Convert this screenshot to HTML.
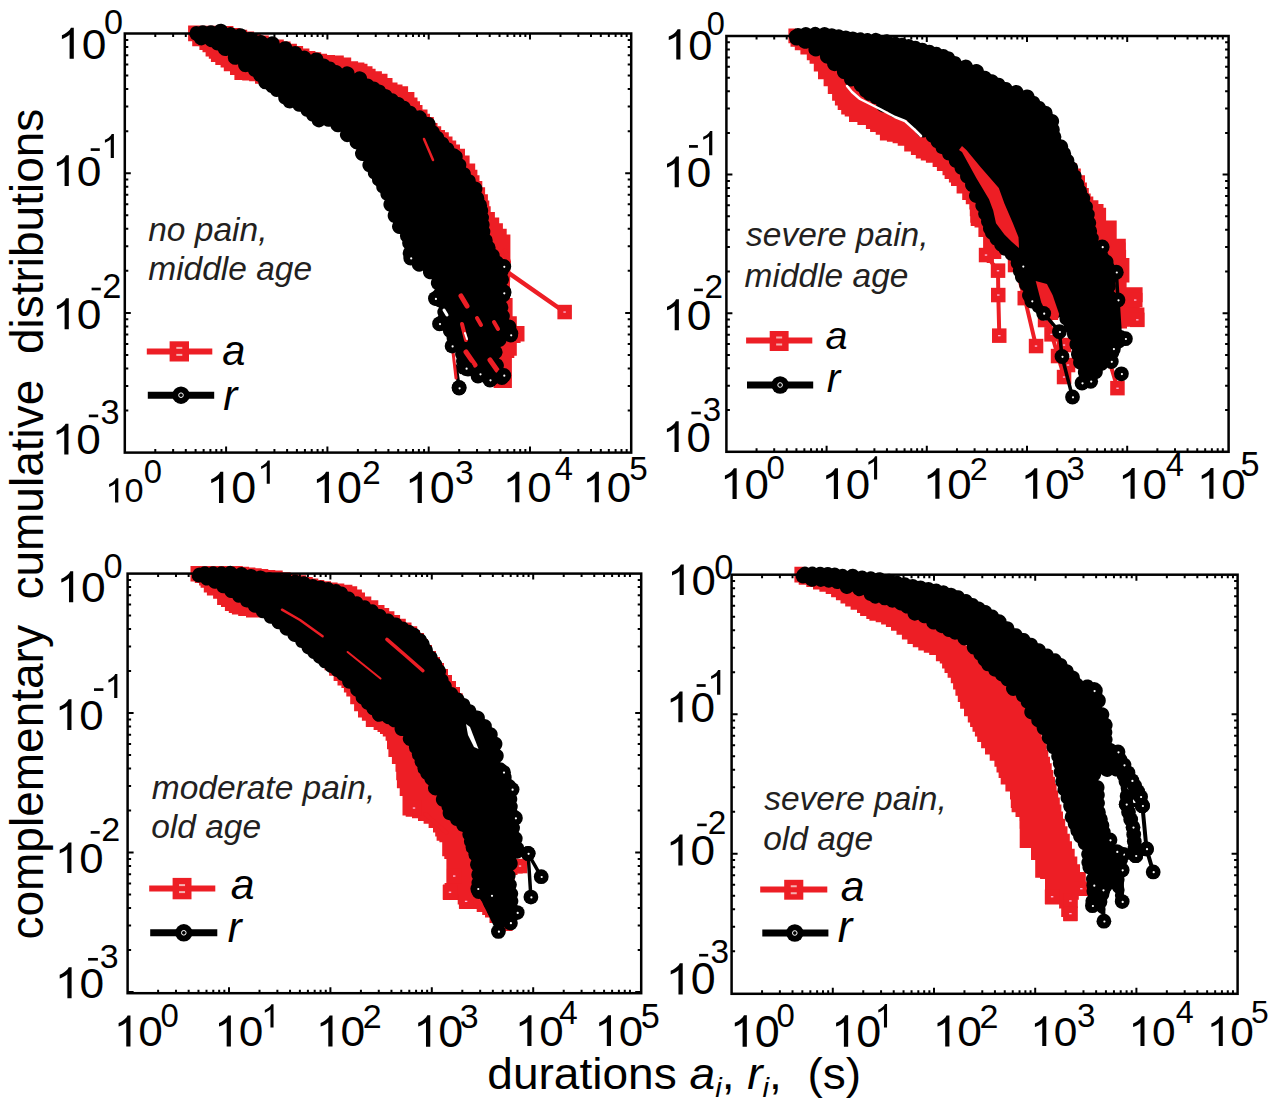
<!DOCTYPE html><html><head><meta charset="utf-8"><style>html,body{margin:0;padding:0;background:#fff;overflow:hidden;width:1279px;height:1110px;}svg{display:block;}text{font-family:"Liberation Sans",sans-serif;}</style></head><body><svg width="1279" height="1110" viewBox="0 0 1279 1110" font-family="Liberation Sans, sans-serif">
<rect width="1279" height="1110" fill="#fff"/>
<path d="M188.1 25.6 L192.6 25.6 L192.6 25.6 L197.0 25.6 L200.3 25.6 L200.3 25.7 L203.6 25.7 L206.9 25.7 L206.9 25.8 L210.2 25.8 L213.5 25.8 L213.5 25.8 L216.8 25.8 L220.1 25.8 L220.1 25.9 L223.4 25.9 L226.7 25.9 L226.7 26.0 L230.0 26.0 L233.4 26.0 L233.4 27.9 L236.9 27.9 L240.3 27.9 L240.3 29.8 L243.8 29.8 L247.2 29.8 L247.2 31.6 L250.6 31.6 L254.1 31.6 L254.1 33.5 L257.5 33.5 L261.2 33.5 L261.2 35.5 L265.0 35.5 L268.8 35.5 L268.8 37.5 L272.5 37.5 L276.2 37.5 L276.2 39.5 L280.0 39.5 L283.8 39.5 L283.8 41.5 L287.5 41.5 L290.6 41.5 L290.6 43.8 L293.8 43.8 L296.9 43.8 L296.9 46.0 L300.0 46.0 L303.1 46.0 L303.1 48.5 L306.2 48.5 L309.4 48.5 L309.4 51.0 L312.5 51.0 L315.4 51.0 L315.4 52.3 L318.3 52.3 L321.2 52.3 L321.2 53.7 L324.2 53.7 L327.1 53.7 L327.1 55.0 L330.0 55.0 L335.0 55.0 L335.0 55.6 L340.0 55.6 L343.8 55.6 L343.8 57.5 L347.5 57.5 L351.2 57.5 L351.2 61.2 L355.0 61.2 L358.1 61.2 L358.1 62.5 L361.2 62.5 L364.4 62.5 L364.4 63.8 L367.5 63.8 L367.5 66.2 L372.5 66.2 L372.5 68.8 L375.6 68.8 L375.6 71.2 L378.8 71.2 L381.9 71.2 L381.9 73.8 L385.0 73.8 L387.5 73.8 L387.5 78.1 L390.0 78.1 L392.5 78.1 L392.5 82.5 L395.0 82.5 L397.5 82.5 L397.5 84.4 L400.0 84.4 L402.5 84.4 L402.5 86.2 L405.0 86.2 L408.1 86.2 L408.1 91.9 L411.2 91.9 L414.4 91.9 L414.4 97.5 L417.5 97.5 L417.5 101.2 L420.0 101.2 L420.0 105.0 L422.5 105.0 L422.5 109.4 L425.0 109.4 L427.5 109.4 L427.5 113.8 L430.0 113.8 L430.0 116.9 L433.8 116.9 L433.8 120.0 L433.8 123.1 L437.5 123.1 L437.5 126.2 L441.2 126.2 L441.2 130.0 L445.0 130.0 L445.0 132.2 L448.8 132.2 L448.8 134.4 L448.8 136.6 L452.5 136.6 L452.5 138.8 L452.5 140.6 L456.2 140.6 L456.2 142.5 L456.2 144.4 L460.0 144.4 L460.0 146.2 L460.0 148.8 L465.0 148.8 L465.0 151.2 L465.0 155.6 L469.6 155.6 L469.6 159.9 L469.6 163.4 L475.2 163.4 L475.2 166.9 L475.2 169.7 L477.4 169.7 L477.4 172.5 L477.4 175.3 L479.5 175.3 L479.5 178.1 L479.5 180.9 L482.3 180.9 L482.3 183.8 L482.3 187.3 L485.1 187.3 L485.1 190.8 L485.1 194.3 L487.9 194.3 L487.9 197.8 L487.9 200.6 L489.3 200.6 L489.3 203.4 L489.3 206.3 L490.7 206.3 L490.7 209.1 L490.7 211.9 L494.9 211.9 L494.9 214.8 L494.9 217.6 L499.2 217.6 L499.2 220.4 L499.2 223.2 L502.9 223.2 L502.9 226.0 L502.9 228.8 L506.7 228.8 L506.7 231.6 L506.7 234.4 L510.4 234.4 L510.4 237.2 L510.4 240.4 L510.4 240.4 L510.4 243.6 L510.4 246.7 L510.4 246.7 L510.4 249.9 L510.4 253.1 L510.4 253.1 L510.4 256.2 L510.4 259.4 L510.4 259.4 L510.4 262.6 L510.4 266.1 L510.3 266.1 L510.3 269.7 L510.3 273.2 L510.2 273.2 L510.2 276.8 L510.2 280.3 L510.0 280.3 L510.0 283.8 L510.0 287.4 L509.9 287.4 L509.9 290.9 L509.9 294.5 L509.8 294.5 L509.8 298.0 L511.2 298.0 L511.2 298.0 L512.6 298.0 L512.6 301.1 L512.6 301.1 L512.6 304.1 L512.6 307.1 L512.6 307.1 L512.6 310.2 L512.6 313.2 L512.6 313.2 L512.6 316.3 L514.7 316.3 L514.7 316.3 L516.8 316.3 L516.8 321.1 L516.8 321.1 L516.8 326.0 L520.6 326.0 L520.6 326.0 L524.5 326.0 L524.5 329.9 L524.5 329.9 L524.5 333.8 L524.5 337.7 L524.5 337.7 L524.5 341.6 L520.6 341.6 L520.6 343.0 L516.8 343.0 L516.8 346.2 L516.8 346.2 L516.8 349.4 L516.8 352.5 L516.8 352.5 L516.8 355.7 L514.3 355.7 L514.3 358.0 L511.9 358.0 L511.9 361.8 L511.9 361.8 L511.9 365.5 L511.9 369.2 L511.9 369.2 L511.9 373.0 L511.9 376.8 L511.9 376.8 L511.9 380.5 L511.9 384.2 L511.9 384.2 L511.9 388.0 L508.2 388.0 L508.2 388.0 L504.5 388.0 L500.8 388.0 L500.8 388.0 L497.1 388.0 L493.6 388.0 L493.6 385.0 L490.0 385.0 L490.0 382.5 L486.7 382.5 L486.7 380.0 L486.7 377.5 L483.3 377.5 L483.3 375.0 L483.3 372.5 L480.0 372.5 L480.0 370.0 L480.0 367.0 L478.0 367.0 L478.0 364.0 L478.0 361.0 L476.0 361.0 L476.0 358.0 L476.0 355.0 L474.0 355.0 L474.0 352.0 L474.0 349.0 L472.0 349.0 L472.0 346.0 L472.0 343.0 L470.0 343.0 L470.0 340.0 L470.0 336.7 L468.3 336.7 L468.3 333.3 L468.3 330.0 L466.7 330.0 L466.7 326.7 L466.7 323.3 L465.0 323.3 L465.0 320.0 L465.0 316.7 L463.3 316.7 L463.3 313.3 L463.3 310.0 L461.7 310.0 L461.7 306.7 L461.7 303.3 L460.0 303.3 L460.0 300.0 L460.0 297.0 L457.0 297.0 L457.0 294.0 L457.0 291.0 L454.0 291.0 L454.0 288.0 L454.0 285.0 L451.0 285.0 L451.0 282.0 L451.0 279.0 L448.0 279.0 L448.0 276.0 L448.0 273.0 L445.0 273.0 L445.0 270.0 L445.0 267.0 L441.0 267.0 L441.0 264.0 L441.0 261.0 L437.0 261.0 L437.0 258.0 L437.0 255.0 L433.0 255.0 L433.0 252.0 L433.0 249.0 L429.0 249.0 L429.0 246.0 L429.0 243.0 L425.0 243.0 L425.0 240.0 L425.0 237.1 L421.7 237.1 L421.7 234.2 L421.7 231.2 L418.3 231.2 L418.3 228.3 L418.3 225.4 L415.0 225.4 L415.0 222.5 L415.0 219.6 L411.7 219.6 L411.7 216.7 L411.7 213.8 L408.3 213.8 L408.3 210.8 L408.3 207.9 L405.0 207.9 L405.0 205.0 L405.0 202.1 L401.7 202.1 L401.7 199.2 L401.7 196.2 L398.3 196.2 L398.3 193.3 L398.3 190.4 L395.0 190.4 L395.0 187.5 L395.0 184.6 L391.7 184.6 L391.7 181.7 L391.7 178.8 L388.3 178.8 L388.3 175.8 L388.3 172.9 L385.0 172.9 L385.0 170.0 L385.0 167.5 L381.0 167.5 L381.0 165.0 L381.0 162.5 L377.0 162.5 L377.0 160.0 L377.0 157.5 L373.0 157.5 L373.0 155.0 L373.0 152.5 L369.0 152.5 L369.0 150.0 L369.0 147.5 L365.0 147.5 L365.0 145.0 L362.5 145.0 L362.5 141.0 L360.0 141.0 L357.5 141.0 L357.5 137.0 L355.0 137.0 L352.5 137.0 L352.5 133.0 L350.0 133.0 L347.5 133.0 L347.5 129.0 L345.0 129.0 L342.5 129.0 L342.5 125.0 L340.0 125.0 L337.0 125.0 L337.0 122.0 L334.0 122.0 L331.0 122.0 L331.0 119.0 L328.0 119.0 L325.0 119.0 L325.0 116.0 L322.0 116.0 L319.0 116.0 L319.0 113.0 L316.0 113.0 L313.0 113.0 L313.0 110.0 L310.0 110.0 L306.9 110.0 L306.9 106.2 L303.8 106.2 L300.6 106.2 L300.6 102.5 L297.5 102.5 L294.4 102.5 L294.4 98.8 L291.2 98.8 L288.1 98.8 L288.1 95.0 L285.0 95.0 L281.7 95.0 L281.7 91.7 L278.3 91.7 L275.0 91.7 L275.0 88.3 L271.7 88.3 L268.3 88.3 L268.3 85.0 L265.0 85.0 L261.2 85.0 L261.2 83.8 L257.5 83.8 L255.0 83.8 L255.0 81.2 L252.5 81.2 L249.1 81.2 L249.1 80.6 L245.6 80.6 L242.2 80.6 L242.2 80.0 L238.8 80.0 L234.4 80.0 L234.4 75.0 L230.0 75.0 L230.0 71.2 L223.8 71.2 L223.8 67.5 L220.6 67.5 L220.6 65.0 L217.5 65.0 L215.3 65.0 L215.3 61.9 L213.1 61.9 L210.9 61.9 L210.9 58.8 L208.8 58.8 L208.8 56.6 L205.6 56.6 L205.6 54.4 L205.6 52.2 L202.5 52.2 L202.5 50.0 L199.4 50.0 L199.4 46.2 L196.2 46.2 L192.2 46.2 L192.2 41.2 L188.1 41.2 L188.1 37.3 L188.1 37.3 L188.1 33.4 L188.1 29.5 L188.1 29.5 L188.1 25.6 Z" fill="#ed1e25"/>
<path d="M506.0 271.0 L564.6 312.0" fill="none" stroke="#ed1e25" stroke-width="4.5" stroke-linejoin="round" stroke-linecap="round"/>
<rect x="557.4" y="304.8" width="14.5" height="14.5" fill="#ed1e25"/><rect x="563.4" y="311.4" width="2.4" height="1.3" fill="#fbd"/>
<path d="M189.7 32.8 A7.4 7.4 0 0 1 191.8 27.7 A7.4 7.4 0 0 1 198.8 26.6 A7.4 7.4 0 0 1 206.9 26.6 A7.4 7.4 0 0 1 214.9 26.6 A7.4 7.4 0 0 1 227.4 27.9 A7.4 7.4 0 0 1 236.0 29.7 A7.4 7.4 0 0 1 247.2 32.9 A7.4 7.4 0 0 1 257.2 36.0 A7.4 7.4 0 0 1 267.2 38.4 A7.4 7.4 0 0 1 279.7 43.5 A7.4 7.4 0 0 1 292.2 46.5 A7.4 7.4 0 0 1 302.1 50.9 A7.4 7.4 0 0 1 310.9 54.7 A7.4 7.4 0 0 1 323.4 58.4 A7.4 7.4 0 0 1 329.5 61.5 A7.4 7.4 0 0 1 335.8 64.9 A7.4 7.4 0 0 1 342.1 68.4 A7.4 7.4 0 0 1 354.6 73.4 A7.4 7.4 0 0 1 367.1 78.4 A7.4 7.4 0 0 1 373.3 81.5 A7.4 7.4 0 0 1 379.5 84.6 A7.4 7.4 0 0 1 385.7 88.9 A7.4 7.4 0 0 1 392.0 93.3 A7.4 7.4 0 0 1 398.2 97.1 A7.4 7.4 0 0 1 404.4 100.8 A7.4 7.4 0 0 1 410.6 105.8 A7.4 7.4 0 0 1 416.9 110.8 A7.4 7.4 0 0 1 426.9 117.0 A7.4 7.4 0 0 1 435.5 125.7 A7.4 7.4 0 0 1 439.8 131.2 A7.4 7.4 0 0 1 444.2 136.9 A7.4 7.4 0 0 1 449.3 142.5 A7.4 7.4 0 0 1 454.4 148.3 A7.4 7.4 0 0 1 459.0 150.6 A7.4 7.4 0 0 1 462.4 158.8 A7.4 7.4 0 0 1 465.9 167.4 A7.4 7.4 0 0 1 470.9 174.5 A7.4 7.4 0 0 1 475.8 181.5 A7.4 7.4 0 0 1 481.4 192.6 A7.4 7.4 0 0 1 484.2 199.6 A7.4 7.4 0 0 1 486.9 206.5 A7.4 7.4 0 0 1 487.6 213.4 A7.4 7.4 0 0 1 488.3 220.5 A7.4 7.4 0 0 1 489.0 227.5 A7.4 7.4 0 0 1 489.7 234.6 A7.4 7.4 0 0 1 492.6 241.8 A7.4 7.4 0 0 1 495.5 248.9 A7.4 7.4 0 0 1 499.7 256.1 A7.4 7.4 0 0 1 504.0 263.2 A7.4 7.4 0 0 1 508.0 268.5 A7.4 7.4 0 0 1 507.4 274.9 A7.4 7.4 0 0 1 506.0 285.4 A7.4 7.4 0 0 1 508.8 291.0 A7.4 7.4 0 0 1 506.0 302.1 A7.4 7.4 0 0 1 507.4 310.8 A7.4 7.4 0 0 1 508.9 319.5 A7.4 7.4 0 0 1 515.9 329.3 A7.4 7.4 0 0 1 514.7 335.3 A7.4 7.4 0 0 1 506.4 338.0 A7.4 7.4 0 0 1 500.4 346.9 A7.4 7.4 0 0 1 498.9 358.6 A7.4 7.4 0 0 1 503.2 368.7 A7.4 7.4 0 0 1 506.1 377.9 A7.4 7.4 0 0 1 498.2 382.8 A7.4 7.4 0 0 1 487.5 382.8 A7.4 7.4 0 0 1 479.4 378.8 A7.4 7.4 0 0 1 475.4 374.8 A7.4 7.4 0 0 1 472.0 368.8 A7.4 7.4 0 0 1 462.9 371.7 A7.4 7.4 0 0 1 460.7 374.3 A7.4 7.4 0 0 1 457.3 365.2 A7.4 7.4 0 0 1 456.6 358.4 A7.4 7.4 0 0 1 455.8 351.1 A7.4 7.4 0 0 1 450.1 343.9 A7.4 7.4 0 0 1 446.6 336.9 A7.4 7.4 0 0 1 443.0 329.9 A7.4 7.4 0 0 1 437.5 323.0 A7.4 7.4 0 0 1 438.3 315.6 A7.4 7.4 0 0 1 439.0 307.5 A7.4 7.4 0 0 1 433.4 299.2 A7.4 7.4 0 0 1 434.8 289.5 A7.4 7.4 0 0 1 431.9 279.2 A7.4 7.4 0 0 1 423.1 270.5 A7.4 7.4 0 0 1 411.9 263.4 A7.4 7.4 0 0 1 406.5 259.6 A7.4 7.4 0 0 1 404.5 248.3 A7.4 7.4 0 0 1 402.4 241.2 A7.4 7.4 0 0 1 400.2 233.9 A7.4 7.4 0 0 1 393.1 222.8 A7.4 7.4 0 0 1 388.9 211.6 A7.4 7.4 0 0 1 384.7 200.3 A7.4 7.4 0 0 1 380.4 193.1 A7.4 7.4 0 0 1 376.2 186.1 A7.4 7.4 0 0 1 372.0 179.0 A7.4 7.4 0 0 1 367.8 172.1 A7.4 7.4 0 0 1 363.6 160.9 A7.4 7.4 0 0 1 356.4 149.4 A7.4 7.4 0 0 1 349.5 141.8 A7.4 7.4 0 0 1 340.6 131.7 A7.4 7.4 0 0 1 330.4 126.6 A7.4 7.4 0 0 1 324.0 125.3 A7.4 7.4 0 0 1 311.7 121.6 A7.4 7.4 0 0 1 306.3 116.8 A7.4 7.4 0 0 1 300.6 111.7 A7.4 7.4 0 0 1 292.9 107.8 A7.4 7.4 0 0 1 283.1 104.2 A7.4 7.4 0 0 1 278.2 96.8 A7.4 7.4 0 0 1 270.5 92.9 A7.4 7.4 0 0 1 265.7 89.3 A7.4 7.4 0 0 1 258.2 81.8 A7.4 7.4 0 0 1 253.2 76.8 A7.4 7.4 0 0 1 248.1 71.7 A7.4 7.4 0 0 1 238.1 64.2 A7.4 7.4 0 0 1 228.1 55.4 A7.4 7.4 0 0 1 217.9 50.4 A7.4 7.4 0 0 1 211.7 47.2 A7.4 7.4 0 0 1 205.4 44.1 A7.4 7.4 0 0 1 194.2 40.4 A7.4 7.4 0 0 1 189.6 35.8 A7.4 7.4 0 0 1 189.7 32.8 Z" fill="#000"/>
<circle cx="459.1" cy="387.4" r="7.4" fill="#000"/><circle cx="459.6" cy="387.7" r="1.1" fill="#fff"/>
<circle cx="501.9" cy="267.1" r="7.4" fill="#000"/><circle cx="502.4" cy="267.4" r="1.1" fill="#fff"/>
<circle cx="504.1" cy="291.9" r="7.4" fill="#000"/><circle cx="504.6" cy="292.2" r="1.1" fill="#fff"/>
<circle cx="510.9" cy="333.6" r="7.4" fill="#000"/><circle cx="511.4" cy="333.9" r="1.1" fill="#fff"/>
<circle cx="501.9" cy="377.5" r="7.4" fill="#000"/><circle cx="502.4" cy="377.8" r="1.1" fill="#fff"/>
<circle cx="441.0" cy="323.4" r="7.4" fill="#000"/><circle cx="441.5" cy="323.7" r="1.1" fill="#fff"/>
<circle cx="410.7" cy="258.1" r="7.4" fill="#000"/><circle cx="411.2" cy="258.4" r="1.1" fill="#fff"/>
<circle cx="436.6" cy="298.6" r="7.4" fill="#000"/><circle cx="437.1" cy="298.9" r="1.1" fill="#fff"/>
<circle cx="490.0" cy="380.0" r="7.4" fill="#000"/><circle cx="490.5" cy="380.3" r="1.1" fill="#fff"/>
<circle cx="478.0" cy="376.0" r="7.4" fill="#000"/><circle cx="478.5" cy="376.3" r="1.1" fill="#fff"/>
<circle cx="468.0" cy="369.0" r="7.4" fill="#000"/><circle cx="468.5" cy="369.3" r="1.1" fill="#fff"/>
<path d="M459.1 387.4 L456.0 366.0" fill="none" stroke="#000" stroke-width="3.5" stroke-linejoin="round" stroke-linecap="round"/>
<path d="M461.0 296.0 L467.0 306.0" fill="none" stroke="#ed1e25" stroke-width="5" stroke-linejoin="round" stroke-linecap="round"/>
<path d="M462.0 324.0 L464.0 332.0 L466.0 340.0" fill="none" stroke="#ed1e25" stroke-width="4" stroke-linejoin="round" stroke-linecap="round"/>
<path d="M477.0 318.0 L481.0 325.0" fill="none" stroke="#ed1e25" stroke-width="4" stroke-linejoin="round" stroke-linecap="round"/>
<path d="M494.0 322.0 L498.0 329.0" fill="none" stroke="#ed1e25" stroke-width="4" stroke-linejoin="round" stroke-linecap="round"/>
<path d="M453.0 352.0 L456.0 378.0" fill="none" stroke="#ed1e25" stroke-width="3" stroke-linejoin="round" stroke-linecap="round"/>
<path d="M466.0 352.0 L475.0 365.0" fill="none" stroke="#ed1e25" stroke-width="5" stroke-linejoin="round" stroke-linecap="round"/>
<path d="M490.0 360.0 L497.0 370.0" fill="none" stroke="#ed1e25" stroke-width="5" stroke-linejoin="round" stroke-linecap="round"/>
<path d="M505.0 250.0 L509.0 262.0" fill="none" stroke="#ed1e25" stroke-width="4" stroke-linejoin="round" stroke-linecap="round"/>
<path d="M444.0 310.0 L447.0 315.0" fill="none" stroke="#fff" stroke-width="3" stroke-linejoin="round" stroke-linecap="round"/>
<path d="M465.0 333.0 L467.0 339.0" fill="none" stroke="#fff" stroke-width="2" stroke-linejoin="round" stroke-linecap="round"/>
<circle cx="459.1" cy="388.0" r="7.4" fill="#000"/><circle cx="459.6" cy="388.3" r="1.1" fill="#fff"/>
<circle cx="480.0" cy="374.0" r="7.4" fill="#000"/><circle cx="480.5" cy="374.3" r="1.1" fill="#fff"/>
<circle cx="503.8" cy="375.4" r="7.4" fill="#000"/><circle cx="504.3" cy="375.7" r="1.1" fill="#fff"/>
<circle cx="510.7" cy="335.0" r="7.4" fill="#000"/><circle cx="511.2" cy="335.3" r="1.1" fill="#fff"/>
<circle cx="503.8" cy="266.5" r="7.4" fill="#000"/><circle cx="504.3" cy="266.8" r="1.1" fill="#fff"/>
<circle cx="503.8" cy="293.0" r="7.4" fill="#000"/><circle cx="504.3" cy="293.3" r="1.1" fill="#fff"/>
<circle cx="439.5" cy="323.8" r="7.4" fill="#000"/><circle cx="440.0" cy="324.1" r="1.1" fill="#fff"/>
<circle cx="435.4" cy="298.6" r="7.4" fill="#000"/><circle cx="435.9" cy="298.9" r="1.1" fill="#fff"/>
<circle cx="452.1" cy="346.1" r="7.4" fill="#000"/><circle cx="452.6" cy="346.4" r="1.1" fill="#fff"/>
<circle cx="466.1" cy="368.4" r="7.4" fill="#000"/><circle cx="466.6" cy="368.7" r="1.1" fill="#fff"/>
<path d="M424.0 139.0 L433.0 160.0" fill="none" stroke="#ed1e25" stroke-width="2.5" stroke-linejoin="round" stroke-linecap="round"/>
<path d="M788.4 28.5 L792.2 28.5 L792.2 28.5 L796.0 28.5 L796.0 31.4 L798.0 31.4 L798.0 34.2 L798.0 37.1 L800.0 37.1 L800.0 40.0 L803.3 40.0 L803.3 44.0 L806.7 44.0 L810.0 44.0 L810.0 48.0 L813.3 48.0 L816.7 48.0 L816.7 52.0 L820.0 52.0 L820.0 54.5 L825.0 54.5 L825.0 57.0 L825.0 59.5 L830.0 59.5 L830.0 62.0 L830.0 64.5 L835.0 64.5 L835.0 67.0 L835.0 69.5 L840.0 69.5 L840.0 72.0 L840.0 74.5 L845.0 74.5 L845.0 77.0 L845.0 79.5 L850.0 79.5 L850.0 82.0 L850.0 84.5 L855.0 84.5 L855.0 87.0 L855.0 89.5 L860.0 89.5 L860.0 92.0 L863.3 92.0 L863.3 96.7 L866.7 96.7 L870.0 96.7 L870.0 101.3 L873.3 101.3 L876.7 101.3 L876.7 106.0 L880.0 106.0 L883.3 106.0 L883.3 109.0 L886.7 109.0 L890.0 109.0 L890.0 112.0 L893.3 112.0 L896.7 112.0 L896.7 115.0 L900.0 115.0 L903.0 115.0 L903.0 119.0 L906.0 119.0 L909.0 119.0 L909.0 123.0 L912.0 123.0 L915.0 123.0 L915.0 127.0 L918.0 127.0 L921.0 127.0 L921.0 131.0 L924.0 131.0 L927.0 131.0 L927.0 135.0 L930.0 135.0 L933.0 135.0 L933.0 139.0 L936.0 139.0 L939.0 139.0 L939.0 143.0 L942.0 143.0 L945.0 143.0 L945.0 147.0 L948.0 147.0 L951.0 147.0 L951.0 151.0 L954.0 151.0 L957.0 151.0 L957.0 155.0 L960.0 155.0 L960.0 157.9 L964.2 157.9 L964.2 160.8 L964.2 163.8 L968.3 163.8 L968.3 166.7 L968.3 169.6 L972.5 169.6 L972.5 172.5 L972.5 175.4 L976.7 175.4 L976.7 178.3 L976.7 181.2 L980.8 181.2 L980.8 184.2 L980.8 187.1 L985.0 187.1 L985.0 190.0 L985.0 193.5 L988.0 193.5 L988.0 197.0 L988.0 200.5 L991.0 200.5 L991.0 204.0 L991.0 207.5 L994.0 207.5 L994.0 211.0 L994.0 214.5 L997.0 214.5 L997.0 218.0 L997.0 221.5 L1000.0 221.5 L1000.0 225.0 L1000.0 228.8 L1001.2 228.8 L1001.2 232.5 L1001.2 236.2 L1002.5 236.2 L1002.5 240.0 L1002.5 243.8 L1003.8 243.8 L1003.8 247.5 L1003.8 251.2 L1005.0 251.2 L1005.0 255.0 L1001.3 255.0 L1001.3 259.0 L997.6 259.0 L993.9 259.0 L993.9 263.0 L990.2 263.0 L986.7 263.0 L986.7 261.3 L983.1 261.3 L983.1 257.2 L983.1 257.2 L983.1 253.2 L983.1 249.1 L983.1 249.1 L983.1 245.0 L983.1 241.0 L983.1 241.0 L983.1 236.9 L980.8 236.9 L980.8 236.9 L978.4 236.9 L978.4 232.2 L978.4 232.2 L978.4 227.5 L974.5 227.5 L974.5 226.0 L970.7 226.0 L970.7 222.7 L970.2 222.7 L970.2 219.4 L970.2 216.2 L969.8 216.2 L969.8 212.9 L969.8 209.6 L969.3 209.6 L969.3 206.3 L969.3 204.2 L965.8 204.2 L965.8 202.1 L965.8 199.9 L962.2 199.9 L962.2 197.8 L962.2 193.6 L956.6 193.6 L956.6 189.4 L956.6 185.9 L951.0 185.9 L951.0 182.4 L948.9 182.4 L948.9 178.9 L946.8 178.9 L944.6 178.9 L944.6 175.3 L942.5 175.3 L942.5 171.1 L936.9 171.1 L936.9 166.9 L932.6 166.9 L932.6 162.7 L928.4 162.7 L925.9 162.7 L925.9 160.6 L923.3 160.6 L920.8 160.6 L920.8 158.5 L918.3 158.5 L915.8 158.5 L915.8 155.0 L913.3 155.0 L910.9 155.0 L910.9 151.5 L908.4 151.5 L904.2 151.5 L904.2 145.8 L900.0 145.8 L897.7 145.8 L897.7 143.2 L895.4 143.2 L892.6 143.2 L892.6 141.8 L889.8 141.8 L886.9 141.8 L886.9 140.4 L884.1 140.4 L879.9 140.4 L879.9 134.8 L875.7 134.8 L875.7 131.9 L870.1 131.9 L870.1 129.1 L865.9 129.1 L865.9 124.9 L861.6 124.9 L857.4 124.9 L857.4 122.1 L853.2 122.1 L849.0 122.1 L849.0 116.5 L844.7 116.5 L844.7 114.4 L841.2 114.4 L841.2 112.2 L841.2 110.1 L837.7 110.1 L837.7 108.0 L837.7 105.5 L834.9 105.5 L834.9 103.1 L834.9 100.7 L832.1 100.7 L832.1 98.2 L832.1 94.0 L827.8 94.0 L827.8 89.7 L827.8 86.2 L823.6 86.2 L823.6 82.7 L823.6 79.2 L818.0 79.2 L818.0 75.7 L818.0 71.5 L813.8 71.5 L813.8 67.2 L813.8 63.7 L809.6 63.7 L809.6 60.2 L806.8 60.2 L806.8 54.6 L803.9 54.6 L800.4 54.6 L800.4 50.3 L796.9 50.3 L794.8 50.3 L794.8 46.8 L792.6 46.8 L790.5 46.8 L790.5 43.3 L788.4 43.3 L788.4 39.6 L788.4 39.6 L788.4 35.9 L788.4 32.2 L788.4 32.2 L788.4 28.5 Z" fill="#ed1e25"/>
<path d="M1066.0 150.0 L1066.0 152.6 L1069.7 152.6 L1069.7 155.3 L1069.7 157.9 L1073.4 157.9 L1073.4 160.6 L1073.4 163.2 L1077.1 163.2 L1077.1 165.8 L1077.1 168.5 L1080.8 168.5 L1080.8 171.1 L1080.8 175.3 L1085.0 175.3 L1085.0 179.6 L1085.0 182.4 L1086.9 182.4 L1086.9 185.2 L1086.9 188.0 L1088.8 188.0 L1088.8 190.8 L1088.8 193.6 L1090.7 193.6 L1090.7 196.4 L1093.3 196.4 L1093.3 200.2 L1095.8 200.2 L1098.4 200.2 L1098.4 203.9 L1101.0 203.9 L1103.5 203.9 L1103.5 207.7 L1106.1 207.7 L1106.1 210.9 L1106.1 210.9 L1106.1 214.1 L1106.1 217.2 L1106.1 217.2 L1106.1 220.4 L1108.8 220.4 L1108.8 220.4 L1111.4 220.4 L1114.1 220.4 L1114.1 220.4 L1116.7 220.4 L1116.7 223.4 L1116.7 223.4 L1116.7 226.5 L1116.7 229.6 L1116.7 229.6 L1116.7 232.6 L1116.7 235.6 L1116.7 235.6 L1116.7 238.7 L1121.2 238.7 L1121.2 238.7 L1125.8 238.7 L1125.8 242.4 L1125.9 242.4 L1125.9 246.1 L1125.9 249.8 L1126.1 249.8 L1126.1 253.5 L1126.1 258.1 L1129.4 258.1 L1129.4 262.8 L1129.4 266.6 L1129.4 266.6 L1129.4 270.3 L1129.4 274.1 L1129.4 274.1 L1129.4 277.8 L1129.4 282.5 L1126.6 282.5 L1126.6 287.2 L1130.6 287.2 L1130.6 287.2 L1134.6 287.2 L1138.6 287.2 L1138.6 287.2 L1142.6 287.2 L1142.6 290.9 L1142.6 290.9 L1142.6 294.7 L1142.6 298.4 L1142.6 298.4 L1142.6 302.2 L1141.2 302.2 L1141.2 303.2 L1139.7 303.2 L1139.7 307.4 L1144.4 307.4 L1144.4 311.6 L1144.4 315.4 L1144.4 315.4 L1144.4 319.2 L1144.4 323.0 L1144.4 323.0 L1144.4 326.8 L1140.8 326.8 L1140.8 326.8 L1137.2 326.8 L1133.6 326.8 L1133.6 326.8 L1130.0 326.8 L1127.0 326.8 L1127.0 328.4 L1124.0 328.4 L1121.0 328.4 L1121.0 330.0 L1118.0 330.0 L1118.0 327.0 L1116.0 327.0 L1116.0 324.0 L1116.0 321.0 L1114.0 321.0 L1114.0 318.0 L1114.0 315.0 L1112.0 315.0 L1112.0 312.0 L1112.0 309.0 L1110.0 309.0 L1110.0 306.0 L1110.0 303.0 L1108.0 303.0 L1108.0 300.0 L1108.0 296.4 L1106.1 296.4 L1106.1 292.9 L1106.1 289.3 L1104.3 289.3 L1104.3 285.7 L1104.3 282.1 L1102.4 282.1 L1102.4 278.6 L1102.4 275.0 L1100.6 275.0 L1100.6 271.4 L1100.6 267.9 L1098.7 267.9 L1098.7 264.3 L1098.7 260.7 L1096.9 260.7 L1096.9 257.1 L1096.9 253.6 L1095.0 253.6 L1095.0 250.0 L1095.0 246.4 L1092.9 246.4 L1092.9 242.9 L1092.9 239.3 L1090.7 239.3 L1090.7 235.7 L1090.7 232.1 L1088.6 232.1 L1088.6 228.6 L1088.6 225.0 L1086.4 225.0 L1086.4 221.4 L1086.4 217.9 L1084.3 217.9 L1084.3 214.3 L1084.3 210.7 L1082.1 210.7 L1082.1 207.1 L1082.1 203.6 L1080.0 203.6 L1080.0 200.0 L1080.0 196.7 L1077.0 196.7 L1077.0 193.3 L1077.0 190.0 L1074.0 190.0 L1074.0 186.7 L1074.0 183.3 L1071.0 183.3 L1071.0 180.0 L1071.0 176.7 L1068.0 176.7 L1068.0 173.3 L1068.0 170.0 L1065.0 170.0 L1065.0 166.7 L1065.0 163.3 L1062.0 163.3 L1062.0 160.0 L1062.0 157.5 L1064.0 157.5 L1064.0 155.0 L1064.0 152.5 L1066.0 152.5 L1066.0 150.0 Z" fill="#ed1e25"/>
<path d="M986.0 255.0 L998.0 270.7 L998.3 295.0 L999.3 335.6" fill="none" stroke="#ed1e25" stroke-width="4.0" stroke-linejoin="round" stroke-linecap="round"/>
<rect x="978.8" y="247.8" width="14.5" height="14.5" fill="#ed1e25"/><rect x="984.8" y="254.4" width="2.4" height="1.3" fill="#fbd"/>
<rect x="990.8" y="263.4" width="14.5" height="14.5" fill="#ed1e25"/><rect x="996.8" y="270.1" width="2.4" height="1.3" fill="#fbd"/>
<rect x="991.0" y="287.8" width="14.5" height="14.5" fill="#ed1e25"/><rect x="997.1" y="294.4" width="2.4" height="1.3" fill="#fbd"/>
<rect x="992.0" y="328.4" width="14.5" height="14.5" fill="#ed1e25"/><rect x="998.1" y="335.0" width="2.4" height="1.3" fill="#fbd"/>
<path d="M1015.0 265.0 L1024.7 298.1 L1036.0 346.0" fill="none" stroke="#ed1e25" stroke-width="4.0" stroke-linejoin="round" stroke-linecap="round"/>
<rect x="1007.8" y="257.8" width="14.5" height="14.5" fill="#ed1e25"/><rect x="1013.8" y="264.4" width="2.4" height="1.3" fill="#fbd"/>
<rect x="1017.5" y="290.9" width="14.5" height="14.5" fill="#ed1e25"/><rect x="1023.5" y="297.5" width="2.4" height="1.3" fill="#fbd"/>
<rect x="1028.8" y="338.8" width="14.5" height="14.5" fill="#ed1e25"/><rect x="1034.8" y="345.4" width="2.4" height="1.3" fill="#fbd"/>
<path d="M1045.0 320.0 L1051.6 334.3 L1058.0 356.0 L1064.1 377.0" fill="none" stroke="#ed1e25" stroke-width="4.0" stroke-linejoin="round" stroke-linecap="round"/>
<rect x="1037.8" y="312.8" width="14.5" height="14.5" fill="#ed1e25"/><rect x="1043.8" y="319.4" width="2.4" height="1.3" fill="#fbd"/>
<rect x="1044.3" y="327.1" width="14.5" height="14.5" fill="#ed1e25"/><rect x="1050.4" y="333.7" width="2.4" height="1.3" fill="#fbd"/>
<rect x="1050.8" y="348.8" width="14.5" height="14.5" fill="#ed1e25"/><rect x="1056.8" y="355.4" width="2.4" height="1.3" fill="#fbd"/>
<rect x="1056.8" y="369.8" width="14.5" height="14.5" fill="#ed1e25"/><rect x="1062.9" y="376.4" width="2.4" height="1.3" fill="#fbd"/>
<path d="M1100.0 330.0 L1117.5 388.2" fill="none" stroke="#ed1e25" stroke-width="4.0" stroke-linejoin="round" stroke-linecap="round"/>
<rect x="1110.2" y="380.9" width="14.5" height="14.5" fill="#ed1e25"/><rect x="1116.3" y="387.6" width="2.4" height="1.3" fill="#fbd"/>
<rect x="1130.0" y="312.6" width="14.5" height="14.5" fill="#ed1e25"/><rect x="1136.1" y="319.2" width="2.4" height="1.3" fill="#fbd"/>
<rect x="1128.0" y="292.8" width="14.5" height="14.5" fill="#ed1e25"/><rect x="1134.0" y="299.4" width="2.4" height="1.3" fill="#fbd"/>
<rect x="1060.8" y="357.8" width="14.5" height="14.5" fill="#ed1e25"/><rect x="1066.8" y="364.4" width="2.4" height="1.3" fill="#fbd"/>
<rect x="1056.8" y="337.8" width="14.5" height="14.5" fill="#ed1e25"/><rect x="1062.8" y="344.4" width="2.4" height="1.3" fill="#fbd"/>
<path d="M789.3 33.8 A7.4 7.4 0 0 1 793.1 30.1 A7.4 7.4 0 0 1 801.2 28.8 A7.4 7.4 0 0 1 810.5 28.8 A7.4 7.4 0 0 1 819.9 28.8 A7.4 7.4 0 0 1 829.2 28.8 A7.4 7.4 0 0 1 836.2 29.8 A7.4 7.4 0 0 1 843.2 30.9 A7.4 7.4 0 0 1 850.2 31.9 A7.4 7.4 0 0 1 857.3 33.0 A7.4 7.4 0 0 1 864.4 33.7 A7.4 7.4 0 0 1 871.4 34.4 A7.4 7.4 0 0 1 881.9 35.8 A7.4 7.4 0 0 1 892.5 37.3 A7.4 7.4 0 0 1 899.5 38.3 A7.4 7.4 0 0 1 906.5 39.4 A7.4 7.4 0 0 1 913.5 41.1 A7.4 7.4 0 0 1 920.4 42.9 A7.4 7.4 0 0 1 927.5 45.0 A7.4 7.4 0 0 1 934.5 47.1 A7.4 7.4 0 0 1 941.6 49.2 A7.4 7.4 0 0 1 948.4 51.2 A7.4 7.4 0 0 1 954.8 56.0 A7.4 7.4 0 0 1 961.4 60.9 A7.4 7.4 0 0 1 972.8 65.1 A7.4 7.4 0 0 1 983.9 70.8 A7.4 7.4 0 0 1 991.0 74.3 A7.4 7.4 0 0 1 998.0 77.8 A7.4 7.4 0 0 1 1005.0 82.0 A7.4 7.4 0 0 1 1012.2 86.2 A7.4 7.4 0 0 1 1023.4 90.5 A7.4 7.4 0 0 1 1034.6 96.1 A7.4 7.4 0 0 1 1040.1 100.9 A7.4 7.4 0 0 1 1045.7 105.7 A7.4 7.4 0 0 1 1052.6 114.0 A7.4 7.4 0 0 1 1058.1 125.1 A7.4 7.4 0 0 1 1059.4 131.9 A7.4 7.4 0 0 1 1060.9 139.3 A7.4 7.4 0 0 1 1068.1 147.8 A7.4 7.4 0 0 1 1071.1 154.7 A7.4 7.4 0 0 1 1074.3 161.7 A7.4 7.4 0 0 1 1077.8 170.1 A7.4 7.4 0 0 1 1081.3 178.5 A7.4 7.4 0 0 1 1084.1 185.5 A7.4 7.4 0 0 1 1086.9 192.5 A7.4 7.4 0 0 1 1089.7 201.0 A7.4 7.4 0 0 1 1092.5 209.3 A7.4 7.4 0 0 1 1093.9 217.7 A7.4 7.4 0 0 1 1095.3 226.2 A7.4 7.4 0 0 1 1096.7 233.2 A7.4 7.4 0 0 1 1098.3 240.7 A7.4 7.4 0 0 1 1105.2 246.2 A7.4 7.4 0 0 1 1106.6 254.4 A7.4 7.4 0 0 1 1112.3 265.8 A7.4 7.4 0 0 1 1116.0 275.2 A7.4 7.4 0 0 1 1114.9 282.9 A7.4 7.4 0 0 1 1113.8 291.2 A7.4 7.4 0 0 1 1115.9 301.8 A7.4 7.4 0 0 1 1118.0 312.3 A7.4 7.4 0 0 1 1118.7 320.7 A7.4 7.4 0 0 1 1119.5 329.5 A7.4 7.4 0 0 1 1125.1 337.4 A7.4 7.4 0 0 1 1118.1 348.4 A7.4 7.4 0 0 1 1113.9 359.6 A7.4 7.4 0 0 1 1108.4 365.0 A7.4 7.4 0 0 1 1102.7 370.7 A7.4 7.4 0 0 1 1097.2 379.1 A7.4 7.4 0 0 1 1088.1 385.8 A7.4 7.4 0 0 1 1083.2 379.3 A7.4 7.4 0 0 1 1078.4 369.5 A7.4 7.4 0 0 1 1073.6 359.8 A7.4 7.4 0 0 1 1072.2 350.1 A7.4 7.4 0 0 1 1070.8 340.1 A7.4 7.4 0 0 1 1067.1 332.5 A7.4 7.4 0 0 1 1063.6 325.0 A7.4 7.4 0 0 1 1059.6 317.1 A7.4 7.4 0 0 1 1051.4 318.0 A7.4 7.4 0 0 1 1044.3 319.0 A7.4 7.4 0 0 1 1036.4 313.1 A7.4 7.4 0 0 1 1031.8 307.6 A7.4 7.4 0 0 1 1027.2 302.2 A7.4 7.4 0 0 1 1023.4 290.9 A7.4 7.4 0 0 1 1019.2 283.3 A7.4 7.4 0 0 1 1015.0 275.9 A7.4 7.4 0 0 1 1013.2 268.6 A7.4 7.4 0 0 1 1011.1 260.8 A7.4 7.4 0 0 1 1004.8 255.8 A7.4 7.4 0 0 1 998.8 251.2 A7.4 7.4 0 0 1 994.2 245.3 A7.4 7.4 0 0 1 989.6 239.4 A7.4 7.4 0 0 1 985.0 233.6 A7.4 7.4 0 0 1 983.2 226.8 A7.4 7.4 0 0 1 981.3 219.7 A7.4 7.4 0 0 1 978.6 211.4 A7.4 7.4 0 0 1 975.8 203.1 A7.4 7.4 0 0 1 970.2 191.7 A7.4 7.4 0 0 1 965.2 183.2 A7.4 7.4 0 0 1 960.2 174.7 A7.4 7.4 0 0 1 954.5 167.7 A7.4 7.4 0 0 1 948.8 160.6 A7.4 7.4 0 0 1 942.1 154.3 A7.4 7.4 0 0 1 935.5 148.1 A7.4 7.4 0 0 1 930.7 142.5 A7.4 7.4 0 0 1 925.7 136.9 A7.4 7.4 0 0 1 915.8 128.4 A7.4 7.4 0 0 1 907.2 119.8 A7.4 7.4 0 0 1 897.2 117.0 A7.4 7.4 0 0 1 887.5 111.3 A7.4 7.4 0 0 1 876.2 104.3 A7.4 7.4 0 0 1 869.8 100.8 A7.4 7.4 0 0 1 863.6 97.4 A7.4 7.4 0 0 1 858.9 91.9 A7.4 7.4 0 0 1 853.8 86.1 A7.4 7.4 0 0 1 844.0 79.2 A7.4 7.4 0 0 1 837.0 70.7 A7.4 7.4 0 0 1 827.1 63.7 A7.4 7.4 0 0 1 820.0 55.2 A7.4 7.4 0 0 1 808.5 48.0 A7.4 7.4 0 0 1 798.7 45.2 A7.4 7.4 0 0 1 789.2 38.5 A7.4 7.4 0 0 1 789.3 33.8 Z" fill="#000"/>
<path d="M959.0 150.0 L962.0 152.0 L976.3 178.1 L989.0 199.3 L993.2 210.5 L996.0 223.2 L1004.4 234.4 L1012.0 242.0 L1019.0 248.0 L1018.5 237.2 L1012.9 223.2 L1004.4 203.5 L998.8 188.0 L980.5 166.9 L966.4 150.0 L962.0 146.0 Z" fill="#ed1e25" />
<path d="M1035.7 281.0 L1046.9 284.0 L1052.6 295.0 L1059.1 314.0 L1058.0 320.0 L1050.0 320.0 L1041.3 302.6 Z" fill="#ed1e25" />
<path d="M847.0 86.0 L852.0 92.0 L860.0 99.0 L870.0 104.0 L880.0 109.0 L895.0 117.0 L905.0 121.0 L915.0 130.0 L921.0 136.0" fill="none" stroke="#fff" stroke-width="2.5" stroke-linejoin="round" stroke-linecap="round"/>
<path d="M1022.8 266.3 L1031.8 301.0 L1043.7 313.4 L1059.4 331.7 L1062.0 356.5 L1072.5 397.0" fill="none" stroke="#000" stroke-width="3.5" stroke-linejoin="round" stroke-linecap="round"/>
<circle cx="1022.8" cy="266.3" r="7.4" fill="#000"/><circle cx="1023.3" cy="266.6" r="1.1" fill="#fff"/>
<circle cx="1031.8" cy="301.0" r="7.4" fill="#000"/><circle cx="1032.3" cy="301.3" r="1.1" fill="#fff"/>
<circle cx="1043.7" cy="313.4" r="7.4" fill="#000"/><circle cx="1044.2" cy="313.7" r="1.1" fill="#fff"/>
<circle cx="1059.4" cy="331.7" r="7.4" fill="#000"/><circle cx="1059.9" cy="332.0" r="1.1" fill="#fff"/>
<circle cx="1062.0" cy="356.5" r="7.4" fill="#000"/><circle cx="1062.5" cy="356.8" r="1.1" fill="#fff"/>
<circle cx="1072.5" cy="397.0" r="7.4" fill="#000"/><circle cx="1073.0" cy="397.3" r="1.1" fill="#fff"/>
<path d="M1102.2 246.9 L1116.3 272.2 L1118.0 300.0 L1120.4 337.5" fill="none" stroke="#000" stroke-width="3.5" stroke-linejoin="round" stroke-linecap="round"/>
<circle cx="1102.2" cy="246.9" r="7.4" fill="#000"/><circle cx="1102.7" cy="247.2" r="1.1" fill="#fff"/>
<circle cx="1116.3" cy="272.2" r="7.4" fill="#000"/><circle cx="1116.8" cy="272.5" r="1.1" fill="#fff"/>
<circle cx="1118.0" cy="300.0" r="7.4" fill="#000"/><circle cx="1118.5" cy="300.3" r="1.1" fill="#fff"/>
<circle cx="1120.4" cy="337.5" r="7.4" fill="#000"/><circle cx="1120.9" cy="337.8" r="1.1" fill="#fff"/>
<circle cx="1121.4" cy="373.8" r="7.4" fill="#000"/><circle cx="1121.9" cy="374.1" r="1.1" fill="#fff"/>
<circle cx="1113.4" cy="348.8" r="7.4" fill="#000"/><circle cx="1113.9" cy="349.1" r="1.1" fill="#fff"/>
<circle cx="1111.3" cy="361.5" r="7.4" fill="#000"/><circle cx="1111.8" cy="361.8" r="1.1" fill="#fff"/>
<circle cx="1125.4" cy="338.7" r="7.4" fill="#000"/><circle cx="1125.9" cy="339.0" r="1.1" fill="#fff"/>
<circle cx="1090.7" cy="381.3" r="7.4" fill="#000"/><circle cx="1091.2" cy="381.6" r="1.1" fill="#fff"/>
<circle cx="1082.0" cy="383.0" r="7.4" fill="#000"/><circle cx="1082.5" cy="383.3" r="1.1" fill="#fff"/>
<path d="M190.5 566.0 L194.0 566.0 L194.0 566.0 L197.5 566.0 L201.0 566.0 L201.0 566.0 L204.6 566.0 L208.1 566.0 L208.1 566.0 L211.6 566.0 L215.1 566.0 L215.1 566.0 L218.6 566.0 L222.1 566.0 L222.1 566.0 L225.6 566.0 L229.2 566.0 L229.2 566.0 L232.7 566.0 L236.2 566.0 L236.2 566.0 L239.7 566.0 L242.8 566.0 L242.8 566.8 L246.0 566.8 L249.1 566.8 L249.1 567.5 L252.2 567.5 L255.4 567.5 L255.4 568.3 L258.5 568.3 L261.7 568.3 L261.7 569.1 L264.8 569.1 L268.3 569.1 L268.3 569.9 L271.8 569.9 L275.3 569.9 L275.3 570.6 L278.8 570.6 L282.7 570.6 L282.7 572.2 L286.6 572.2 L290.6 572.2 L290.6 573.8 L294.5 573.8 L298.4 573.8 L298.4 575.3 L302.3 575.3 L306.2 575.3 L306.2 576.9 L310.1 576.9 L312.8 576.9 L312.8 578.5 L315.6 578.5 L318.3 578.5 L318.3 580.0 L321.0 580.0 L324.3 580.0 L324.3 581.2 L327.6 581.2 L331.0 581.2 L331.0 582.4 L334.3 582.4 L337.6 582.4 L337.6 583.5 L341.0 583.5 L344.3 583.5 L344.3 584.7 L347.6 584.7 L352.4 584.7 L352.4 586.3 L357.2 586.3 L357.2 589.4 L361.9 589.4 L361.9 592.5 L365.0 592.5 L365.0 596.4 L368.1 596.4 L371.3 596.4 L371.3 600.3 L374.4 600.3 L378.3 600.3 L378.3 605.0 L382.2 605.0 L384.5 605.0 L384.5 608.1 L386.9 608.1 L389.2 608.1 L389.2 611.3 L391.6 611.3 L394.4 611.3 L394.4 615.0 L397.3 615.0 L400.1 615.0 L400.1 618.8 L403.0 618.8 L405.8 618.8 L405.8 622.5 L408.6 622.5 L411.5 622.5 L411.5 626.3 L414.3 626.3 L417.2 626.3 L417.2 630.0 L420.0 630.0 L420.0 633.0 L424.0 633.0 L424.0 636.0 L424.0 639.0 L428.0 639.0 L428.0 642.0 L428.0 645.0 L432.0 645.0 L432.0 648.0 L432.0 651.0 L436.0 651.0 L436.0 654.0 L436.0 657.0 L440.0 657.0 L440.0 660.0 L440.0 663.0 L444.0 663.0 L444.0 666.0 L444.0 669.0 L448.0 669.0 L448.0 672.0 L448.0 675.0 L452.0 675.0 L452.0 678.0 L452.0 681.0 L456.0 681.0 L456.0 684.0 L456.0 687.0 L460.0 687.0 L460.0 690.0 L460.0 693.2 L462.7 693.2 L462.7 696.4 L462.7 699.5 L465.5 699.5 L465.5 702.7 L465.5 705.9 L468.2 705.9 L468.2 709.1 L468.2 712.3 L470.9 712.3 L470.9 715.5 L470.9 718.6 L473.6 718.6 L473.6 721.8 L473.6 725.0 L476.4 725.0 L476.4 728.2 L476.4 731.4 L479.1 731.4 L479.1 734.5 L479.1 737.7 L481.8 737.7 L481.8 740.9 L481.8 744.1 L484.5 744.1 L484.5 747.3 L484.5 750.5 L487.3 750.5 L487.3 753.6 L487.3 756.8 L490.0 756.8 L490.0 760.0 L490.0 763.5 L491.5 763.5 L491.5 767.0 L491.5 770.5 L493.0 770.5 L493.0 774.0 L493.0 777.5 L494.5 777.5 L494.5 781.0 L494.5 784.5 L496.0 784.5 L496.0 788.0 L496.0 791.5 L497.5 791.5 L497.5 795.0 L497.5 798.5 L499.0 798.5 L499.0 802.0 L499.0 805.5 L500.5 805.5 L500.5 809.0 L500.5 812.5 L502.0 812.5 L502.0 816.0 L502.0 819.5 L503.5 819.5 L503.5 823.0 L503.5 826.5 L505.0 826.5 L505.0 830.0 L505.0 833.0 L507.1 833.0 L507.1 836.1 L507.1 839.2 L509.2 839.2 L509.2 842.2 L509.2 845.2 L511.2 845.2 L511.2 848.3 L511.2 851.3 L513.3 851.3 L513.3 854.4 L513.3 857.5 L515.4 857.5 L515.4 860.5 L520.3 860.5 L520.3 860.5 L525.2 860.5 L525.2 863.3 L525.2 863.3 L525.2 866.1 L525.2 869.0 L525.2 869.0 L525.2 871.8 L522.7 871.8 L522.7 873.4 L520.1 873.4 L517.5 873.4 L517.5 875.0 L515.0 875.0 L515.0 878.5 L514.7 878.5 L514.7 882.0 L514.7 885.5 L514.4 885.5 L514.4 889.0 L514.4 892.5 L514.1 892.5 L514.1 896.0 L514.1 899.5 L513.8 899.5 L513.8 903.0 L513.8 906.4 L513.5 906.4 L513.5 909.9 L513.5 913.4 L513.2 913.4 L513.2 916.9 L513.2 920.4 L512.9 920.4 L512.9 923.9 L512.9 927.4 L512.6 927.4 L512.6 930.9 L509.1 930.9 L509.1 930.9 L505.6 930.9 L502.0 930.9 L502.0 930.9 L498.5 930.9 L498.5 928.2 L494.0 928.2 L494.0 925.6 L494.0 923.0 L489.5 923.0 L489.5 920.3 L489.5 917.6 L485.0 917.6 L485.0 915.0 L482.2 915.0 L482.2 912.0 L479.4 912.0 L476.7 912.0 L476.7 909.1 L473.9 909.1 L470.2 909.1 L470.2 909.1 L466.5 909.1 L462.8 909.1 L462.8 909.1 L459.1 909.1 L459.1 904.5 L457.7 904.5 L457.7 899.9 L454.0 899.9 L454.0 899.9 L450.3 899.9 L446.6 899.9 L446.6 899.9 L442.9 899.9 L442.9 896.0 L442.9 896.0 L442.9 892.1 L442.9 888.3 L442.9 888.3 L442.9 884.4 L444.6 884.4 L444.6 883.0 L446.4 883.0 L446.4 879.0 L446.4 879.0 L446.4 875.0 L446.4 871.0 L446.4 871.0 L446.4 867.1 L446.4 863.1 L446.4 863.1 L446.4 859.1 L444.3 859.1 L444.3 856.3 L442.2 856.3 L442.2 852.8 L442.2 852.8 L442.2 849.2 L442.2 845.7 L442.2 845.7 L442.2 842.2 L439.4 842.2 L439.4 840.8 L436.6 840.8 L436.6 836.6 L435.2 836.6 L435.2 832.4 L433.0 832.4 L433.0 828.1 L430.8 828.1 L428.6 828.1 L428.6 823.8 L426.4 823.8 L423.6 823.8 L423.6 821.0 L420.8 821.0 L418.0 821.0 L418.0 818.2 L415.2 818.2 L412.0 818.2 L412.0 816.8 L408.9 816.8 L405.7 816.8 L405.7 815.4 L402.5 815.4 L402.5 811.5 L402.5 811.5 L402.5 807.6 L402.5 803.8 L402.5 803.8 L402.5 799.9 L402.5 796.0 L399.7 796.0 L399.7 792.1 L399.7 788.3 L396.9 788.3 L396.9 784.4 L396.9 780.2 L396.2 780.2 L396.2 776.0 L396.2 771.7 L395.5 771.7 L395.5 767.5 L395.5 764.0 L391.9 764.0 L391.9 760.5 L391.9 757.0 L388.4 757.0 L388.4 753.5 L388.4 749.3 L387.0 749.3 L387.0 745.0 L387.0 740.8 L385.6 740.8 L385.6 736.6 L382.8 736.6 L382.8 734.0 L380.0 734.0 L380.0 732.0 L377.5 732.0 L377.5 730.0 L373.6 730.0 L373.6 727.0 L369.7 727.0 L365.8 727.0 L365.8 720.7 L361.9 720.7 L361.9 717.6 L358.0 717.6 L358.0 714.5 L358.0 711.3 L354.1 711.3 L354.1 708.2 L354.1 704.3 L350.2 704.3 L350.2 700.4 L350.2 696.5 L346.3 696.5 L346.3 692.6 L343.9 692.6 L343.9 687.9 L341.4 687.9 L341.4 685.5 L337.5 685.5 L337.5 683.2 L337.5 680.9 L333.6 680.9 L333.6 678.5 L333.6 675.8 L329.1 675.8 L329.1 673.0 L329.1 670.2 L324.5 670.2 L324.5 667.5 L324.5 664.8 L320.0 664.8 L320.0 662.0 L320.0 659.2 L315.0 659.2 L315.0 656.5 L315.0 653.8 L310.0 653.8 L310.0 651.0 L310.0 648.2 L305.0 648.2 L305.0 645.5 L305.0 642.8 L300.0 642.8 L300.0 640.0 L297.5 640.0 L297.5 636.0 L295.0 636.0 L292.5 636.0 L292.5 632.0 L290.0 632.0 L287.5 632.0 L287.5 628.0 L285.0 628.0 L282.5 628.0 L282.5 624.0 L280.0 624.0 L277.5 624.0 L277.5 620.0 L275.0 620.0 L271.8 620.0 L271.8 618.0 L268.5 618.0 L265.2 618.0 L265.2 616.0 L262.0 616.0 L261.1 616.0 L261.1 617.5 L260.1 617.5 L255.4 617.5 L255.4 617.5 L250.7 617.5 L246.0 617.5 L246.0 616.0 L241.3 616.0 L238.2 616.0 L238.2 614.5 L235.1 614.5 L231.9 614.5 L231.9 612.9 L228.8 612.9 L228.8 610.9 L224.9 610.9 L224.9 609.0 L224.9 607.0 L221.0 607.0 L221.0 605.0 L217.1 605.0 L217.1 598.8 L213.1 598.8 L213.1 595.6 L206.9 595.6 L206.9 592.5 L203.8 592.5 L203.8 587.8 L200.6 587.8 L200.6 585.5 L199.1 585.5 L199.1 583.1 L194.8 583.1 L194.8 581.6 L190.5 581.6 L190.5 577.7 L190.5 577.7 L190.5 573.8 L190.5 569.9 L190.5 569.9 L190.5 566.0 Z" fill="#ed1e25"/>
<rect x="442.8" y="885.0" width="14.5" height="14.5" fill="#ed1e25"/><rect x="448.8" y="891.6" width="2.4" height="1.3" fill="#fbd"/>
<rect x="458.9" y="894.0" width="14.5" height="14.5" fill="#ed1e25"/><rect x="464.9" y="900.7" width="2.4" height="1.3" fill="#fbd"/>
<rect x="446.9" y="868.8" width="14.5" height="14.5" fill="#ed1e25"/><rect x="453.0" y="875.4" width="2.4" height="1.3" fill="#fbd"/>
<rect x="512.8" y="858.8" width="14.5" height="14.5" fill="#ed1e25"/><rect x="518.8" y="865.4" width="2.4" height="1.3" fill="#fbd"/>
<rect x="406.8" y="800.8" width="14.5" height="14.5" fill="#ed1e25"/><rect x="412.8" y="807.4" width="2.4" height="1.3" fill="#fbd"/>
<path d="M425.3 814.1 L446.4 832.4" fill="none" stroke="#ed1e25" stroke-width="4" stroke-linejoin="round" stroke-linecap="round"/>
<path d="M192.3 574.1 A7.4 7.4 0 0 1 195.0 569.1 A7.4 7.4 0 0 1 200.7 567.7 A7.4 7.4 0 0 1 209.0 567.7 A7.4 7.4 0 0 1 217.3 567.7 A7.4 7.4 0 0 1 225.6 567.7 A7.4 7.4 0 0 1 236.5 568.9 A7.4 7.4 0 0 1 247.4 570.1 A7.4 7.4 0 0 1 256.7 571.6 A7.4 7.4 0 0 1 266.2 573.2 A7.4 7.4 0 0 1 274.0 574.0 A7.4 7.4 0 0 1 281.9 574.8 A7.4 7.4 0 0 1 291.2 575.9 A7.4 7.4 0 0 1 300.5 577.1 A7.4 7.4 0 0 1 309.9 579.5 A7.4 7.4 0 0 1 317.7 581.0 A7.4 7.4 0 0 1 325.5 582.6 A7.4 7.4 0 0 1 333.3 584.5 A7.4 7.4 0 0 1 341.0 586.4 A7.4 7.4 0 0 1 347.9 591.4 A7.4 7.4 0 0 1 355.1 596.5 A7.4 7.4 0 0 1 363.0 600.4 A7.4 7.4 0 0 1 370.8 604.4 A7.4 7.4 0 0 1 378.6 609.0 A7.4 7.4 0 0 1 386.4 613.7 A7.4 7.4 0 0 1 394.2 617.6 A7.4 7.4 0 0 1 402.1 621.6 A7.4 7.4 0 0 1 408.4 624.7 A7.4 7.4 0 0 1 414.5 627.7 A7.4 7.4 0 0 1 420.7 633.2 A7.4 7.4 0 0 1 426.8 638.5 A7.4 7.4 0 0 1 429.8 644.6 A7.4 7.4 0 0 1 432.9 650.9 A7.4 7.4 0 0 1 437.7 658.0 A7.4 7.4 0 0 1 442.3 664.8 A7.4 7.4 0 0 1 445.4 674.2 A7.4 7.4 0 0 1 448.6 680.5 A7.4 7.4 0 0 1 451.8 686.9 A7.4 7.4 0 0 1 458.2 692.6 A7.4 7.4 0 0 1 464.4 698.0 A7.4 7.4 0 0 1 470.4 704.3 A7.4 7.4 0 0 1 476.4 710.6 A7.4 7.4 0 0 1 484.8 719.0 A7.4 7.4 0 0 1 491.8 727.3 A7.4 7.4 0 0 1 497.3 736.9 A7.4 7.4 0 0 1 500.0 749.4 A7.4 7.4 0 0 1 500.1 762.2 A7.4 7.4 0 0 1 507.3 771.0 A7.4 7.4 0 0 1 511.4 779.3 A7.4 7.4 0 0 1 515.5 787.6 A7.4 7.4 0 0 1 516.0 794.9 A7.4 7.4 0 0 1 516.4 802.4 A7.4 7.4 0 0 1 516.9 809.8 A7.4 7.4 0 0 1 516.0 821.2 A7.4 7.4 0 0 1 518.7 831.9 A7.4 7.4 0 0 1 521.4 842.5 A7.4 7.4 0 0 1 524.1 849.7 A7.4 7.4 0 0 1 515.9 858.6 A7.4 7.4 0 0 1 513.0 870.3 A7.4 7.4 0 0 1 514.4 879.5 A7.4 7.4 0 0 1 515.8 888.4 A7.4 7.4 0 0 1 517.2 897.2 A7.4 7.4 0 0 1 517.2 904.9 A7.4 7.4 0 0 1 517.3 912.3 A7.4 7.4 0 0 1 510.5 923.1 A7.4 7.4 0 0 1 505.1 925.8 A7.4 7.4 0 0 1 498.8 929.0 A7.4 7.4 0 0 1 495.1 922.9 A7.4 7.4 0 0 1 491.0 916.3 A7.4 7.4 0 0 1 487.2 909.3 A7.4 7.4 0 0 1 483.4 902.3 A7.4 7.4 0 0 1 479.6 895.1 A7.4 7.4 0 0 1 472.7 886.8 A7.4 7.4 0 0 1 472.8 878.8 A7.4 7.4 0 0 1 472.8 870.3 A7.4 7.4 0 0 1 471.4 860.3 A7.4 7.4 0 0 1 468.5 853.1 A7.4 7.4 0 0 1 465.7 846.1 A7.4 7.4 0 0 1 464.3 839.2 A7.4 7.4 0 0 1 462.8 831.9 A7.4 7.4 0 0 1 456.3 826.0 A7.4 7.4 0 0 1 450.1 820.4 A7.4 7.4 0 0 1 443.0 810.8 A7.4 7.4 0 0 1 441.4 806.6 A7.4 7.4 0 0 1 437.2 795.2 A7.4 7.4 0 0 1 428.6 785.2 A7.4 7.4 0 0 1 424.4 779.6 A7.4 7.4 0 0 1 420.3 774.1 A7.4 7.4 0 0 1 417.5 767.2 A7.4 7.4 0 0 1 414.7 760.1 A7.4 7.4 0 0 1 411.9 753.1 A7.4 7.4 0 0 1 409.0 746.0 A7.4 7.4 0 0 1 403.3 736.0 A7.4 7.4 0 0 1 394.7 727.3 A7.4 7.4 0 0 1 388.5 724.2 A7.4 7.4 0 0 1 382.5 721.1 A7.4 7.4 0 0 1 371.9 715.2 A7.4 7.4 0 0 1 366.5 709.8 A7.4 7.4 0 0 1 361.1 704.5 A7.4 7.4 0 0 1 355.7 696.7 A7.4 7.4 0 0 1 350.2 688.8 A7.4 7.4 0 0 1 342.1 680.9 A7.4 7.4 0 0 1 336.5 676.9 A7.4 7.4 0 0 1 331.0 673.0 A7.4 7.4 0 0 1 324.7 668.3 A7.4 7.4 0 0 1 318.5 663.7 A7.4 7.4 0 0 1 313.1 659.0 A7.4 7.4 0 0 1 307.7 654.4 A7.4 7.4 0 0 1 301.5 648.1 A7.4 7.4 0 0 1 295.2 641.9 A7.4 7.4 0 0 1 287.3 635.6 A7.4 7.4 0 0 1 279.4 629.3 A7.4 7.4 0 0 1 271.6 623.8 A7.4 7.4 0 0 1 263.8 618.3 A7.4 7.4 0 0 1 255.9 612.8 A7.4 7.4 0 0 1 248.0 607.4 A7.4 7.4 0 0 1 240.2 602.6 A7.4 7.4 0 0 1 232.4 597.9 A7.4 7.4 0 0 1 224.6 593.2 A7.4 7.4 0 0 1 216.7 588.5 A7.4 7.4 0 0 1 208.8 585.3 A7.4 7.4 0 0 1 201.0 582.2 A7.4 7.4 0 0 1 192.0 577.8 A7.4 7.4 0 0 1 192.3 574.1 Z" fill="#000"/>
<path d="M282.0 609.7 L300.0 620.0 L322.6 636.3" fill="none" stroke="#ed1e25" stroke-width="2.5" stroke-linejoin="round" stroke-linecap="round"/>
<path d="M347.6 652.0 L365.0 666.0 L380.5 678.5" fill="none" stroke="#ed1e25" stroke-width="2.0" stroke-linejoin="round" stroke-linecap="round"/>
<path d="M386.9 639.4 L405.0 655.0 L422.9 670.7" fill="none" stroke="#ed1e25" stroke-width="3.5" stroke-linejoin="round" stroke-linecap="round"/>
<path d="M466.0 724.0 L470.0 727.0 L478.5 749.0 L474.0 747.0 L468.0 735.0 Z" fill="#fff" />
<path d="M528.1 853.5 L541.2 876.7" fill="none" stroke="#000" stroke-width="3.5" stroke-linejoin="round" stroke-linecap="round"/>
<circle cx="528.1" cy="853.5" r="7.4" fill="#000"/><circle cx="528.6" cy="853.8" r="1.1" fill="#fff"/>
<circle cx="541.2" cy="876.7" r="7.4" fill="#000"/><circle cx="541.7" cy="877.0" r="1.1" fill="#fff"/>
<path d="M528.1 853.5 L530.9 897.1" fill="none" stroke="#000" stroke-width="3.5" stroke-linejoin="round" stroke-linecap="round"/>
<circle cx="528.1" cy="853.5" r="7.4" fill="#000"/><circle cx="528.6" cy="853.8" r="1.1" fill="#fff"/>
<circle cx="530.9" cy="897.1" r="7.4" fill="#000"/><circle cx="531.4" cy="897.4" r="1.1" fill="#fff"/>
<path d="M478.8 891.5 L498.4 931.4" fill="none" stroke="#000" stroke-width="3.5" stroke-linejoin="round" stroke-linecap="round"/>
<circle cx="478.8" cy="891.5" r="7.4" fill="#000"/><circle cx="479.3" cy="891.8" r="1.1" fill="#fff"/>
<circle cx="498.4" cy="931.4" r="7.4" fill="#000"/><circle cx="498.9" cy="931.7" r="1.1" fill="#fff"/>
<circle cx="510.4" cy="922.9" r="7.4" fill="#000"/><circle cx="510.9" cy="923.2" r="1.1" fill="#fff"/>
<circle cx="517.2" cy="912.6" r="7.4" fill="#000"/><circle cx="517.7" cy="912.9" r="1.1" fill="#fff"/>
<circle cx="512.1" cy="789.4" r="7.4" fill="#000"/><circle cx="512.6" cy="789.7" r="1.1" fill="#fff"/>
<circle cx="503.5" cy="772.3" r="7.4" fill="#000"/><circle cx="504.0" cy="772.6" r="1.1" fill="#fff"/>
<circle cx="477.8" cy="888.7" r="7.4" fill="#000"/><circle cx="478.3" cy="889.0" r="1.1" fill="#fff"/>
<circle cx="491.5" cy="895.5" r="7.4" fill="#000"/><circle cx="492.0" cy="895.8" r="1.1" fill="#fff"/>
<circle cx="515.4" cy="818.0" r="7.4" fill="#000"/><circle cx="515.9" cy="818.3" r="1.1" fill="#fff"/>
<path d="M794.4 566.7 L797.7 566.7 L797.7 566.7 L801.0 566.7 L803.9 566.7 L803.9 570.2 L806.8 570.2 L809.7 570.2 L809.7 573.6 L812.6 573.6 L815.5 573.6 L815.5 577.1 L818.4 577.1 L821.3 577.1 L821.3 580.5 L824.2 580.5 L827.1 580.5 L827.1 584.0 L830.0 584.0 L833.6 584.0 L833.6 586.0 L837.1 586.0 L840.7 586.0 L840.7 588.0 L844.3 588.0 L847.9 588.0 L847.9 590.0 L851.4 590.0 L855.0 590.0 L855.0 592.0 L858.6 592.0 L862.1 592.0 L862.1 594.0 L865.7 594.0 L869.3 594.0 L869.3 596.0 L872.9 596.0 L876.4 596.0 L876.4 598.0 L880.0 598.0 L883.3 598.0 L883.3 600.8 L886.7 600.8 L890.0 600.8 L890.0 603.7 L893.3 603.7 L896.7 603.7 L896.7 606.5 L900.0 606.5 L903.3 606.5 L903.3 609.3 L906.7 609.3 L910.0 609.3 L910.0 612.2 L913.3 612.2 L916.7 612.2 L916.7 615.0 L920.0 615.0 L923.0 615.0 L923.0 618.4 L926.0 618.4 L929.0 618.4 L929.0 621.8 L932.0 621.8 L935.0 621.8 L935.0 625.2 L938.0 625.2 L941.0 625.2 L941.0 628.6 L944.0 628.6 L947.0 628.6 L947.0 632.0 L950.0 632.0 L953.1 632.0 L953.1 636.5 L956.2 636.5 L959.4 636.5 L959.4 641.0 L962.5 641.0 L965.6 641.0 L965.6 645.5 L968.8 645.5 L971.9 645.5 L971.9 650.0 L975.0 650.0 L975.0 652.5 L980.0 652.5 L980.0 655.0 L980.0 657.5 L985.0 657.5 L985.0 660.0 L985.0 662.5 L990.0 662.5 L990.0 665.0 L990.0 667.5 L995.0 667.5 L995.0 670.0 L995.0 672.5 L1000.0 672.5 L1000.0 675.0 L1000.0 677.5 L1004.2 677.5 L1004.2 680.0 L1004.2 682.5 L1008.3 682.5 L1008.3 685.0 L1008.3 687.5 L1012.5 687.5 L1012.5 690.0 L1012.5 692.5 L1016.7 692.5 L1016.7 695.0 L1016.7 697.5 L1020.8 697.5 L1020.8 700.0 L1020.8 702.5 L1025.0 702.5 L1025.0 705.0 L1025.0 707.9 L1028.3 707.9 L1028.3 710.8 L1028.3 713.8 L1031.7 713.8 L1031.7 716.7 L1031.7 719.6 L1035.0 719.6 L1035.0 722.5 L1035.0 725.4 L1038.3 725.4 L1038.3 728.3 L1038.3 731.2 L1041.7 731.2 L1041.7 734.2 L1041.7 737.1 L1045.0 737.1 L1045.0 740.0 L1045.0 743.3 L1046.7 743.3 L1046.7 746.7 L1046.7 750.0 L1048.3 750.0 L1048.3 753.3 L1048.3 756.7 L1050.0 756.7 L1050.0 760.0 L1050.0 763.3 L1051.7 763.3 L1051.7 766.7 L1051.7 770.0 L1053.3 770.0 L1053.3 773.3 L1053.3 776.7 L1055.0 776.7 L1055.0 780.0 L1055.0 783.5 L1056.6 783.5 L1056.6 787.0 L1056.6 790.5 L1058.2 790.5 L1058.2 794.0 L1058.2 797.5 L1059.8 797.5 L1059.8 801.0 L1059.8 804.5 L1061.4 804.5 L1061.4 808.0 L1061.4 811.5 L1063.0 811.5 L1063.0 815.0 L1063.0 818.8 L1065.2 818.8 L1065.2 822.5 L1065.2 826.2 L1067.5 826.2 L1067.5 830.0 L1067.5 833.8 L1069.8 833.8 L1069.8 837.5 L1069.8 841.2 L1072.0 841.2 L1072.0 845.0 L1072.0 848.8 L1074.7 848.8 L1074.7 852.7 L1074.7 856.5 L1077.3 856.5 L1077.3 860.3 L1077.3 864.2 L1080.0 864.2 L1080.0 868.0 L1080.0 872.1 L1085.8 872.1 L1085.8 876.3 L1085.8 880.2 L1085.8 880.2 L1085.8 884.0 L1085.8 887.9 L1085.8 887.9 L1085.8 891.8 L1082.3 891.8 L1082.3 895.0 L1078.8 895.0 L1078.8 899.7 L1077.4 899.7 L1077.4 904.4 L1077.4 908.6 L1077.4 908.6 L1077.4 912.8 L1077.4 917.1 L1077.4 917.1 L1077.4 921.3 L1073.9 921.3 L1073.9 921.3 L1070.3 921.3 L1066.8 921.3 L1066.8 921.3 L1063.3 921.3 L1063.3 917.1 L1061.2 917.1 L1061.2 912.8 L1061.2 908.6 L1059.1 908.6 L1059.1 904.4 L1055.6 904.4 L1055.6 904.4 L1052.0 904.4 L1048.5 904.4 L1048.5 904.4 L1045.0 904.4 L1045.0 901.2 L1045.0 901.2 L1045.0 898.1 L1045.0 894.9 L1045.0 894.9 L1045.0 891.8 L1045.0 888.6 L1045.0 888.6 L1045.0 885.4 L1045.0 882.3 L1045.0 882.3 L1045.0 879.1 L1040.1 879.1 L1040.1 877.7 L1035.2 877.7 L1035.2 873.8 L1035.2 873.8 L1035.2 870.0 L1035.2 866.1 L1035.2 866.1 L1035.2 862.2 L1035.2 860.1 L1031.0 860.1 L1031.0 858.0 L1031.0 853.0 L1031.0 853.0 L1031.0 848.1 L1028.2 848.1 L1028.2 848.1 L1025.3 848.1 L1022.5 848.1 L1022.5 848.1 L1019.7 848.1 L1019.7 844.2 L1019.7 844.2 L1019.7 840.4 L1019.7 836.6 L1019.7 836.6 L1019.7 832.7 L1019.7 828.8 L1019.5 828.8 L1019.5 824.9 L1019.5 820.9 L1019.4 820.9 L1019.4 817.0 L1015.5 817.0 L1015.5 812.3 L1011.6 812.3 L1011.6 808.0 L1010.8 808.0 L1010.8 803.7 L1010.8 799.4 L1010.0 799.4 L1010.0 795.1 L1010.0 791.6 L1005.4 791.6 L1005.4 788.0 L1005.4 784.5 L1000.7 784.5 L1000.7 781.0 L1000.7 778.1 L998.6 778.1 L998.6 775.3 L998.6 772.4 L996.5 772.4 L996.5 769.5 L996.5 766.7 L994.4 766.7 L994.4 763.8 L994.4 760.7 L989.7 760.7 L989.7 757.5 L989.7 754.4 L985.0 754.4 L985.0 751.3 L985.0 748.2 L981.1 748.2 L981.1 745.0 L981.1 741.9 L977.2 741.9 L977.2 738.8 L977.2 736.4 L974.9 736.4 L974.9 734.1 L974.9 731.8 L972.5 731.8 L972.5 729.4 L972.5 727.0 L970.1 727.0 L970.1 724.7 L970.1 722.4 L967.8 722.4 L967.8 720.0 L967.8 716.2 L964.0 716.2 L964.0 712.5 L964.0 708.8 L960.1 708.8 L960.1 705.0 L960.1 701.9 L957.8 701.9 L957.8 698.8 L957.8 695.7 L955.4 695.7 L955.4 692.6 L955.4 689.5 L953.1 689.5 L953.1 686.4 L953.1 683.2 L950.8 683.2 L950.8 680.1 L950.8 677.8 L947.6 677.8 L947.6 675.4 L947.6 673.1 L944.5 673.1 L944.5 670.7 L944.5 668.4 L942.1 668.4 L942.1 666.0 L942.1 663.6 L939.8 663.6 L939.8 661.3 L935.9 661.3 L935.9 655.1 L932.0 655.1 L929.2 655.1 L929.2 652.8 L926.5 652.8 L923.8 652.8 L923.8 650.4 L921.0 650.4 L918.3 650.4 L918.3 647.2 L915.5 647.2 L912.8 647.2 L912.8 644.1 L910.1 644.1 L907.4 644.1 L907.4 639.5 L904.7 639.5 L901.9 639.5 L901.9 634.8 L899.2 634.8 L896.5 634.8 L896.5 630.8 L893.7 630.8 L891.0 630.8 L891.0 626.9 L888.2 626.9 L885.9 626.9 L885.9 624.5 L883.5 624.5 L881.1 624.5 L881.1 622.2 L878.8 622.2 L875.7 622.2 L875.7 620.7 L872.5 620.7 L869.4 620.7 L869.4 619.1 L866.3 619.1 L866.3 616.0 L860.1 616.0 L860.1 612.9 L857.0 612.9 L857.0 609.8 L853.8 609.8 L850.6 609.8 L850.6 606.6 L847.5 606.6 L845.2 606.6 L845.2 603.5 L842.9 603.5 L840.5 603.5 L840.5 600.3 L838.2 600.3 L835.9 600.3 L835.9 597.2 L833.5 597.2 L831.1 597.2 L831.1 594.1 L828.8 594.1 L825.7 594.1 L825.7 591.8 L822.5 591.8 L819.4 591.8 L819.4 589.4 L816.3 589.4 L813.0 589.4 L813.0 587.0 L809.6 587.0 L806.3 587.0 L806.3 584.7 L803.0 584.7 L798.7 584.7 L798.7 582.4 L794.4 582.4 L794.4 578.5 L794.4 578.5 L794.4 574.5 L794.4 570.6 L794.4 570.6 L794.4 566.7 Z" fill="#ed1e25"/>
<rect x="1044.8" y="889.5" width="14.5" height="14.5" fill="#ed1e25"/><rect x="1050.9" y="896.1" width="2.4" height="1.3" fill="#fbd"/>
<rect x="1063.2" y="893.6" width="14.5" height="14.5" fill="#ed1e25"/><rect x="1069.2" y="900.3" width="2.4" height="1.3" fill="#fbd"/>
<rect x="1063.2" y="906.4" width="14.5" height="14.5" fill="#ed1e25"/><rect x="1069.2" y="913.0" width="2.4" height="1.3" fill="#fbd"/>
<rect x="1074.0" y="881.5" width="14.5" height="14.5" fill="#ed1e25"/><rect x="1080.1" y="888.1" width="2.4" height="1.3" fill="#fbd"/>
<path d="M796.1 574.2 A7.4 7.4 0 0 1 799.6 569.2 A7.4 7.4 0 0 1 808.6 567.7 A7.4 7.4 0 0 1 816.3 567.9 A7.4 7.4 0 0 1 824.1 568.0 A7.4 7.4 0 0 1 831.8 568.2 A7.4 7.4 0 0 1 839.5 569.5 A7.4 7.4 0 0 1 847.4 570.9 A7.4 7.4 0 0 1 858.4 571.6 A7.4 7.4 0 0 1 867.0 572.4 A7.4 7.4 0 0 1 875.6 573.2 A7.4 7.4 0 0 1 884.9 574.7 A7.4 7.4 0 0 1 894.3 576.3 A7.4 7.4 0 0 1 902.1 577.9 A7.4 7.4 0 0 1 909.9 579.5 A7.4 7.4 0 0 1 917.7 581.0 A7.4 7.4 0 0 1 925.5 582.6 A7.4 7.4 0 0 1 933.4 584.1 A7.4 7.4 0 0 1 941.2 585.7 A7.4 7.4 0 0 1 948.9 588.0 A7.4 7.4 0 0 1 956.6 590.3 A7.4 7.4 0 0 1 964.4 594.2 A7.4 7.4 0 0 1 972.1 598.1 A7.4 7.4 0 0 1 978.5 601.5 A7.4 7.4 0 0 1 984.8 605.0 A7.4 7.4 0 0 1 991.8 609.6 A7.4 7.4 0 0 1 998.8 614.3 A7.4 7.4 0 0 1 1006.6 621.2 A7.4 7.4 0 0 1 1014.5 628.3 A7.4 7.4 0 0 1 1022.4 633.1 A7.4 7.4 0 0 1 1030.2 637.7 A7.4 7.4 0 0 1 1037.9 643.2 A7.4 7.4 0 0 1 1045.8 648.7 A7.4 7.4 0 0 1 1053.6 653.4 A7.4 7.4 0 0 1 1061.4 658.0 A7.4 7.4 0 0 1 1067.5 664.2 A7.4 7.4 0 0 1 1073.7 670.4 A7.4 7.4 0 0 1 1079.9 678.2 A7.4 7.4 0 0 1 1082.9 680.9 A7.4 7.4 0 0 1 1093.5 682.9 A7.4 7.4 0 0 1 1097.9 688.7 A7.4 7.4 0 0 1 1102.3 694.3 A7.4 7.4 0 0 1 1101.7 707.2 A7.4 7.4 0 0 1 1108.3 718.3 A7.4 7.4 0 0 1 1111.5 728.9 A7.4 7.4 0 0 1 1111.5 735.7 A7.4 7.4 0 0 1 1111.6 743.1 A7.4 7.4 0 0 1 1117.1 749.7 A7.4 7.4 0 0 1 1119.7 756.1 A7.4 7.4 0 0 1 1122.3 762.4 A7.4 7.4 0 0 1 1123.6 771.4 A7.4 7.4 0 0 1 1112.0 775.0 A7.4 7.4 0 0 1 1099.7 770.0 A7.4 7.4 0 0 1 1098.2 780.2 A7.4 7.4 0 0 1 1103.6 791.1 A7.4 7.4 0 0 1 1103.6 798.9 A7.4 7.4 0 0 1 1103.6 807.1 A7.4 7.4 0 0 1 1105.6 814.0 A7.4 7.4 0 0 1 1107.6 820.7 A7.4 7.4 0 0 1 1109.0 827.5 A7.4 7.4 0 0 1 1110.4 834.1 A7.4 7.4 0 0 1 1110.4 845.2 A7.4 7.4 0 0 1 1116.2 852.4 A7.4 7.4 0 0 1 1122.9 855.1 A7.4 7.4 0 0 1 1127.9 861.2 A7.4 7.4 0 0 1 1124.0 866.1 A7.4 7.4 0 0 1 1122.5 874.5 A7.4 7.4 0 0 1 1122.5 884.8 A7.4 7.4 0 0 1 1122.5 895.2 A7.4 7.4 0 0 1 1127.9 901.5 A7.4 7.4 0 0 1 1122.2 907.4 A7.4 7.4 0 0 1 1117.7 901.1 A7.4 7.4 0 0 1 1115.4 893.0 A7.4 7.4 0 0 1 1112.2 884.0 A7.4 7.4 0 0 1 1109.0 892.2 A7.4 7.4 0 0 1 1107.0 899.7 A7.4 7.4 0 0 1 1105.0 907.2 A7.4 7.4 0 0 1 1103.6 914.1 A7.4 7.4 0 0 1 1097.3 911.0 A7.4 7.4 0 0 1 1092.9 911.1 A7.4 7.4 0 0 1 1086.7 905.4 A7.4 7.4 0 0 1 1088.0 895.7 A7.4 7.4 0 0 1 1089.4 885.4 A7.4 7.4 0 0 1 1087.9 874.3 A7.4 7.4 0 0 1 1082.5 866.2 A7.4 7.4 0 0 1 1082.6 858.4 A7.4 7.4 0 0 1 1082.6 850.0 A7.4 7.4 0 0 1 1077.7 843.0 A7.4 7.4 0 0 1 1073.1 836.3 A7.4 7.4 0 0 1 1070.4 829.6 A7.4 7.4 0 0 1 1067.8 823.0 A7.4 7.4 0 0 1 1066.4 812.3 A7.4 7.4 0 0 1 1065.1 801.3 A7.4 7.4 0 0 1 1064.0 803.8 A7.4 7.4 0 0 1 1061.0 795.5 A7.4 7.4 0 0 1 1058.0 786.9 A7.4 7.4 0 0 1 1056.4 777.7 A7.4 7.4 0 0 1 1054.8 768.3 A7.4 7.4 0 0 1 1053.2 761.2 A7.4 7.4 0 0 1 1051.6 754.0 A7.4 7.4 0 0 1 1046.9 744.6 A7.4 7.4 0 0 1 1042.2 735.1 A7.4 7.4 0 0 1 1036.7 727.2 A7.4 7.4 0 0 1 1031.3 719.5 A7.4 7.4 0 0 1 1025.3 708.3 A7.4 7.4 0 0 1 1020.6 702.0 A7.4 7.4 0 0 1 1015.8 695.6 A7.4 7.4 0 0 1 1006.4 686.3 A7.4 7.4 0 0 1 1000.8 681.5 A7.4 7.4 0 0 1 995.3 676.8 A7.4 7.4 0 0 1 988.3 671.3 A7.4 7.4 0 0 1 981.4 665.9 A7.4 7.4 0 0 1 977.5 660.3 A7.4 7.4 0 0 1 973.4 654.5 A7.4 7.4 0 0 1 967.1 645.0 A7.4 7.4 0 0 1 957.4 639.3 A7.4 7.4 0 0 1 949.6 637.0 A7.4 7.4 0 0 1 942.6 633.1 A7.4 7.4 0 0 1 935.6 629.3 A7.4 7.4 0 0 1 926.2 622.9 A7.4 7.4 0 0 1 918.3 619.8 A7.4 7.4 0 0 1 907.5 613.5 A7.4 7.4 0 0 1 901.2 610.4 A7.4 7.4 0 0 1 894.9 607.3 A7.4 7.4 0 0 1 886.9 604.9 A7.4 7.4 0 0 1 879.0 602.5 A7.4 7.4 0 0 1 869.8 601.0 A7.4 7.4 0 0 1 863.7 594.8 A7.4 7.4 0 0 1 852.5 591.5 A7.4 7.4 0 0 1 839.9 588.4 A7.4 7.4 0 0 1 832.0 586.8 A7.4 7.4 0 0 1 824.2 586.1 A7.4 7.4 0 0 1 816.5 585.3 A7.4 7.4 0 0 1 805.6 583.0 A7.4 7.4 0 0 1 795.9 577.8 A7.4 7.4 0 0 1 796.1 574.2 Z" fill="#000"/>
<circle cx="1094.1" cy="690.8" r="8.7" fill="#000"/><circle cx="1094.6" cy="691.1" r="1.1" fill="#fff"/>
<path d="M1118.0 752.0 L1124.0 775.0 L1128.0 788.0 L1126.2 804.3 L1133.0 827.3 L1135.7 855.7" fill="none" stroke="#000" stroke-width="5" stroke-linejoin="round" stroke-linecap="round"/>
<circle cx="1120.0" cy="759.7" r="7.4" fill="#000"/>
<circle cx="1122.0" cy="767.3" r="7.4" fill="#000"/>
<circle cx="1126.0" cy="781.5" r="7.4" fill="#000"/>
<circle cx="1127.1" cy="796.1" r="7.4" fill="#000"/>
<circle cx="1128.5" cy="812.0" r="7.4" fill="#000"/>
<circle cx="1130.7" cy="819.6" r="7.4" fill="#000"/>
<circle cx="1133.7" cy="834.4" r="7.4" fill="#000"/>
<circle cx="1134.3" cy="841.5" r="7.4" fill="#000"/>
<circle cx="1135.0" cy="848.6" r="7.4" fill="#000"/>
<circle cx="1118.0" cy="752.0" r="7.4" fill="#000"/><circle cx="1118.5" cy="752.3" r="1.1" fill="#fff"/>
<circle cx="1124.0" cy="775.0" r="7.4" fill="#000"/><circle cx="1124.5" cy="775.3" r="1.1" fill="#fff"/>
<circle cx="1128.0" cy="788.0" r="7.4" fill="#000"/><circle cx="1128.5" cy="788.3" r="1.1" fill="#fff"/>
<circle cx="1126.2" cy="804.3" r="7.4" fill="#000"/><circle cx="1126.7" cy="804.6" r="1.1" fill="#fff"/>
<circle cx="1133.0" cy="827.3" r="7.4" fill="#000"/><circle cx="1133.5" cy="827.6" r="1.1" fill="#fff"/>
<circle cx="1135.7" cy="855.7" r="7.4" fill="#000"/><circle cx="1136.2" cy="856.0" r="1.1" fill="#fff"/>
<path d="M1124.0 765.0 L1131.9 780.6 L1140.6 796.8 L1142.4 805.7" fill="none" stroke="#000" stroke-width="4" stroke-linejoin="round" stroke-linecap="round"/>
<circle cx="1128.0" cy="772.8" r="7.4" fill="#000"/>
<circle cx="1134.8" cy="786.0" r="7.4" fill="#000"/>
<circle cx="1137.7" cy="791.4" r="7.4" fill="#000"/>
<circle cx="1124.0" cy="765.0" r="7.4" fill="#000"/><circle cx="1124.5" cy="765.3" r="1.1" fill="#fff"/>
<circle cx="1131.9" cy="780.6" r="7.4" fill="#000"/><circle cx="1132.4" cy="780.9" r="1.1" fill="#fff"/>
<circle cx="1140.6" cy="796.8" r="7.4" fill="#000"/><circle cx="1141.1" cy="797.1" r="1.1" fill="#fff"/>
<circle cx="1142.4" cy="805.7" r="7.4" fill="#000"/><circle cx="1142.9" cy="806.0" r="1.1" fill="#fff"/>
<path d="M1142.4 805.7 L1146.5 848.9 L1153.2 871.9" fill="none" stroke="#000" stroke-width="4" stroke-linejoin="round" stroke-linecap="round"/>
<circle cx="1142.4" cy="805.7" r="7.4" fill="#000"/><circle cx="1142.9" cy="806.0" r="1.1" fill="#fff"/>
<circle cx="1146.5" cy="848.9" r="7.4" fill="#000"/><circle cx="1147.0" cy="849.2" r="1.1" fill="#fff"/>
<circle cx="1153.2" cy="871.9" r="7.4" fill="#000"/><circle cx="1153.7" cy="872.2" r="1.1" fill="#fff"/>
<path d="M1126.2 804.3 L1142.4 805.7" fill="none" stroke="#000" stroke-width="4" stroke-linejoin="round" stroke-linecap="round"/>
<circle cx="1126.2" cy="804.3" r="7.4" fill="#000"/><circle cx="1126.7" cy="804.6" r="1.1" fill="#fff"/>
<circle cx="1142.4" cy="805.7" r="7.4" fill="#000"/><circle cx="1142.9" cy="806.0" r="1.1" fill="#fff"/>
<path d="M1135.7 855.7 L1146.5 848.9" fill="none" stroke="#000" stroke-width="3" stroke-linejoin="round" stroke-linecap="round"/>
<circle cx="1135.7" cy="855.7" r="7.4" fill="#000"/><circle cx="1136.2" cy="856.0" r="1.1" fill="#fff"/>
<circle cx="1146.5" cy="848.9" r="7.4" fill="#000"/><circle cx="1147.0" cy="849.2" r="1.1" fill="#fff"/>
<path d="M1093.8 885.4 L1092.4 905.7" fill="none" stroke="#000" stroke-width="3.5" stroke-linejoin="round" stroke-linecap="round"/>
<circle cx="1093.8" cy="885.4" r="7.4" fill="#000"/><circle cx="1094.3" cy="885.7" r="1.1" fill="#fff"/>
<circle cx="1092.4" cy="905.7" r="7.4" fill="#000"/><circle cx="1092.9" cy="906.0" r="1.1" fill="#fff"/>
<path d="M1103.0 890.0 L1103.9 921.2" fill="none" stroke="#000" stroke-width="3.5" stroke-linejoin="round" stroke-linecap="round"/>
<circle cx="1103.0" cy="890.0" r="7.4" fill="#000"/><circle cx="1103.5" cy="890.3" r="1.1" fill="#fff"/>
<circle cx="1103.9" cy="921.2" r="7.4" fill="#000"/><circle cx="1104.4" cy="921.5" r="1.1" fill="#fff"/>
<path d="M1122.2 870.0 L1122.2 901.6" fill="none" stroke="#000" stroke-width="3.5" stroke-linejoin="round" stroke-linecap="round"/>
<circle cx="1122.2" cy="870.0" r="7.4" fill="#000"/><circle cx="1122.7" cy="870.3" r="1.1" fill="#fff"/>
<circle cx="1122.2" cy="901.6" r="7.4" fill="#000"/><circle cx="1122.7" cy="901.9" r="1.1" fill="#fff"/>
<circle cx="1123.5" cy="854.3" r="7.4" fill="#000"/><circle cx="1124.0" cy="854.6" r="1.1" fill="#fff"/>
<circle cx="1116.8" cy="851.6" r="7.4" fill="#000"/><circle cx="1117.3" cy="851.9" r="1.1" fill="#fff"/>
<circle cx="1110.0" cy="840.0" r="7.4" fill="#000"/><circle cx="1110.5" cy="840.3" r="1.1" fill="#fff"/>
<path d="M155.29 452.60v-3.5 M155.29 33.50v3.5 M173.13 452.60v-3.5 M173.13 33.50v3.5 M185.79 452.60v-3.5 M185.79 33.50v3.5 M195.61 452.60v-3.5 M195.61 33.50v3.5 M203.63 452.60v-3.5 M203.63 33.50v3.5 M210.41 452.60v-3.5 M210.41 33.50v3.5 M216.28 452.60v-3.5 M216.28 33.50v3.5 M221.46 452.60v-3.5 M221.46 33.50v3.5 M226.10 452.60v-6 M226.10 33.50v6 M256.59 452.60v-3.5 M256.59 33.50v3.5 M274.43 452.60v-3.5 M274.43 33.50v3.5 M287.09 452.60v-3.5 M287.09 33.50v3.5 M296.91 452.60v-3.5 M296.91 33.50v3.5 M304.93 452.60v-3.5 M304.93 33.50v3.5 M311.71 452.60v-3.5 M311.71 33.50v3.5 M317.58 452.60v-3.5 M317.58 33.50v3.5 M322.76 452.60v-3.5 M322.76 33.50v3.5 M327.40 452.60v-6 M327.40 33.50v6 M357.89 452.60v-3.5 M357.89 33.50v3.5 M375.73 452.60v-3.5 M375.73 33.50v3.5 M388.39 452.60v-3.5 M388.39 33.50v3.5 M398.21 452.60v-3.5 M398.21 33.50v3.5 M406.23 452.60v-3.5 M406.23 33.50v3.5 M413.01 452.60v-3.5 M413.01 33.50v3.5 M418.88 452.60v-3.5 M418.88 33.50v3.5 M424.06 452.60v-3.5 M424.06 33.50v3.5 M428.70 452.60v-6 M428.70 33.50v6 M459.19 452.60v-3.5 M459.19 33.50v3.5 M477.03 452.60v-3.5 M477.03 33.50v3.5 M489.69 452.60v-3.5 M489.69 33.50v3.5 M499.51 452.60v-3.5 M499.51 33.50v3.5 M507.53 452.60v-3.5 M507.53 33.50v3.5 M514.31 452.60v-3.5 M514.31 33.50v3.5 M520.18 452.60v-3.5 M520.18 33.50v3.5 M525.36 452.60v-3.5 M525.36 33.50v3.5 M530.00 452.60v-6 M530.00 33.50v6 M560.49 452.60v-3.5 M560.49 33.50v3.5 M578.33 452.60v-3.5 M578.33 33.50v3.5 M590.99 452.60v-3.5 M590.99 33.50v3.5 M600.81 452.60v-3.5 M600.81 33.50v3.5 M608.83 452.60v-3.5 M608.83 33.50v3.5 M615.61 452.60v-3.5 M615.61 33.50v3.5 M621.48 452.60v-3.5 M621.48 33.50v3.5 M626.66 452.60v-3.5 M626.66 33.50v3.5 M124.80 131.15h3.5 M631.20 131.15h-3.5 M124.80 106.55h3.5 M631.20 106.55h-3.5 M124.80 89.09h3.5 M631.20 89.09h-3.5 M124.80 75.55h3.5 M631.20 75.55h-3.5 M124.80 64.49h3.5 M631.20 64.49h-3.5 M124.80 55.14h3.5 M631.20 55.14h-3.5 M124.80 47.04h3.5 M631.20 47.04h-3.5 M124.80 39.89h3.5 M631.20 39.89h-3.5 M124.80 270.85h3.5 M631.20 270.85h-3.5 M124.80 246.25h3.5 M631.20 246.25h-3.5 M124.80 228.79h3.5 M631.20 228.79h-3.5 M124.80 215.25h3.5 M631.20 215.25h-3.5 M124.80 204.19h3.5 M631.20 204.19h-3.5 M124.80 194.84h3.5 M631.20 194.84h-3.5 M124.80 186.74h3.5 M631.20 186.74h-3.5 M124.80 179.59h3.5 M631.20 179.59h-3.5 M124.80 173.20h6 M631.20 173.20h-6 M124.80 410.55h3.5 M631.20 410.55h-3.5 M124.80 385.95h3.5 M631.20 385.95h-3.5 M124.80 368.49h3.5 M631.20 368.49h-3.5 M124.80 354.95h3.5 M631.20 354.95h-3.5 M124.80 343.89h3.5 M631.20 343.89h-3.5 M124.80 334.54h3.5 M631.20 334.54h-3.5 M124.80 326.44h3.5 M631.20 326.44h-3.5 M124.80 319.29h3.5 M631.20 319.29h-3.5 M124.80 312.90h6 M631.20 312.90h-6" stroke="#000" stroke-width="2.0" fill="none"/>
<rect x="124.80" y="33.50" width="506.40" height="419.10" fill="none" stroke="#000" stroke-width="2.5"/>
<path d="M756.56 451.80v-3.5 M756.56 36.00v3.5 M774.21 451.80v-3.5 M774.21 36.00v3.5 M786.73 451.80v-3.5 M786.73 36.00v3.5 M796.44 451.80v-3.5 M796.44 36.00v3.5 M804.37 451.80v-3.5 M804.37 36.00v3.5 M811.08 451.80v-3.5 M811.08 36.00v3.5 M816.89 451.80v-3.5 M816.89 36.00v3.5 M822.02 451.80v-3.5 M822.02 36.00v3.5 M826.60 451.80v-6 M826.60 36.00v6 M856.76 451.80v-3.5 M856.76 36.00v3.5 M874.41 451.80v-3.5 M874.41 36.00v3.5 M886.93 451.80v-3.5 M886.93 36.00v3.5 M896.64 451.80v-3.5 M896.64 36.00v3.5 M904.57 451.80v-3.5 M904.57 36.00v3.5 M911.28 451.80v-3.5 M911.28 36.00v3.5 M917.09 451.80v-3.5 M917.09 36.00v3.5 M922.22 451.80v-3.5 M922.22 36.00v3.5 M926.80 451.80v-6 M926.80 36.00v6 M956.96 451.80v-3.5 M956.96 36.00v3.5 M974.61 451.80v-3.5 M974.61 36.00v3.5 M987.13 451.80v-3.5 M987.13 36.00v3.5 M996.84 451.80v-3.5 M996.84 36.00v3.5 M1004.77 451.80v-3.5 M1004.77 36.00v3.5 M1011.48 451.80v-3.5 M1011.48 36.00v3.5 M1017.29 451.80v-3.5 M1017.29 36.00v3.5 M1022.42 451.80v-3.5 M1022.42 36.00v3.5 M1027.00 451.80v-6 M1027.00 36.00v6 M1057.16 451.80v-3.5 M1057.16 36.00v3.5 M1074.81 451.80v-3.5 M1074.81 36.00v3.5 M1087.33 451.80v-3.5 M1087.33 36.00v3.5 M1097.04 451.80v-3.5 M1097.04 36.00v3.5 M1104.97 451.80v-3.5 M1104.97 36.00v3.5 M1111.68 451.80v-3.5 M1111.68 36.00v3.5 M1117.49 451.80v-3.5 M1117.49 36.00v3.5 M1122.62 451.80v-3.5 M1122.62 36.00v3.5 M1127.20 451.80v-6 M1127.20 36.00v6 M1157.36 451.80v-3.5 M1157.36 36.00v3.5 M1175.01 451.80v-3.5 M1175.01 36.00v3.5 M1187.53 451.80v-3.5 M1187.53 36.00v3.5 M1197.24 451.80v-3.5 M1197.24 36.00v3.5 M1205.17 451.80v-3.5 M1205.17 36.00v3.5 M1211.88 451.80v-3.5 M1211.88 36.00v3.5 M1217.69 451.80v-3.5 M1217.69 36.00v3.5 M1222.82 451.80v-3.5 M1222.82 36.00v3.5 M726.40 132.88h3.5 M1228.60 132.88h-3.5 M726.40 108.47h3.5 M1228.60 108.47h-3.5 M726.40 91.15h3.5 M1228.60 91.15h-3.5 M726.40 77.72h3.5 M1228.60 77.72h-3.5 M726.40 66.75h3.5 M1228.60 66.75h-3.5 M726.40 57.47h3.5 M1228.60 57.47h-3.5 M726.40 49.43h3.5 M1228.60 49.43h-3.5 M726.40 42.34h3.5 M1228.60 42.34h-3.5 M726.40 271.48h3.5 M1228.60 271.48h-3.5 M726.40 247.07h3.5 M1228.60 247.07h-3.5 M726.40 229.75h3.5 M1228.60 229.75h-3.5 M726.40 216.32h3.5 M1228.60 216.32h-3.5 M726.40 205.35h3.5 M1228.60 205.35h-3.5 M726.40 196.07h3.5 M1228.60 196.07h-3.5 M726.40 188.03h3.5 M1228.60 188.03h-3.5 M726.40 180.94h3.5 M1228.60 180.94h-3.5 M726.40 174.60h6 M1228.60 174.60h-6 M726.40 410.08h3.5 M1228.60 410.08h-3.5 M726.40 385.67h3.5 M1228.60 385.67h-3.5 M726.40 368.35h3.5 M1228.60 368.35h-3.5 M726.40 354.92h3.5 M1228.60 354.92h-3.5 M726.40 343.95h3.5 M1228.60 343.95h-3.5 M726.40 334.67h3.5 M1228.60 334.67h-3.5 M726.40 326.63h3.5 M1228.60 326.63h-3.5 M726.40 319.54h3.5 M1228.60 319.54h-3.5 M726.40 313.20h6 M1228.60 313.20h-6" stroke="#000" stroke-width="2.0" fill="none"/>
<rect x="726.40" y="36.00" width="502.20" height="415.80" fill="none" stroke="#000" stroke-width="2.5"/>
<path d="M158.12 993.20v-3.5 M158.12 573.60v3.5 M175.98 993.20v-3.5 M175.98 573.60v3.5 M188.65 993.20v-3.5 M188.65 573.60v3.5 M198.48 993.20v-3.5 M198.48 573.60v3.5 M206.50 993.20v-3.5 M206.50 573.60v3.5 M213.29 993.20v-3.5 M213.29 573.60v3.5 M219.17 993.20v-3.5 M219.17 573.60v3.5 M224.36 993.20v-3.5 M224.36 573.60v3.5 M229.00 993.20v-6 M229.00 573.60v6 M259.52 993.20v-3.5 M259.52 573.60v3.5 M277.38 993.20v-3.5 M277.38 573.60v3.5 M290.05 993.20v-3.5 M290.05 573.60v3.5 M299.88 993.20v-3.5 M299.88 573.60v3.5 M307.90 993.20v-3.5 M307.90 573.60v3.5 M314.69 993.20v-3.5 M314.69 573.60v3.5 M320.57 993.20v-3.5 M320.57 573.60v3.5 M325.76 993.20v-3.5 M325.76 573.60v3.5 M330.40 993.20v-6 M330.40 573.60v6 M360.92 993.20v-3.5 M360.92 573.60v3.5 M378.78 993.20v-3.5 M378.78 573.60v3.5 M391.45 993.20v-3.5 M391.45 573.60v3.5 M401.28 993.20v-3.5 M401.28 573.60v3.5 M409.30 993.20v-3.5 M409.30 573.60v3.5 M416.09 993.20v-3.5 M416.09 573.60v3.5 M421.97 993.20v-3.5 M421.97 573.60v3.5 M427.16 993.20v-3.5 M427.16 573.60v3.5 M431.80 993.20v-6 M431.80 573.60v6 M462.32 993.20v-3.5 M462.32 573.60v3.5 M480.18 993.20v-3.5 M480.18 573.60v3.5 M492.85 993.20v-3.5 M492.85 573.60v3.5 M502.68 993.20v-3.5 M502.68 573.60v3.5 M510.70 993.20v-3.5 M510.70 573.60v3.5 M517.49 993.20v-3.5 M517.49 573.60v3.5 M523.37 993.20v-3.5 M523.37 573.60v3.5 M528.56 993.20v-3.5 M528.56 573.60v3.5 M533.20 993.20v-6 M533.20 573.60v6 M563.72 993.20v-3.5 M563.72 573.60v3.5 M581.58 993.20v-3.5 M581.58 573.60v3.5 M594.25 993.20v-3.5 M594.25 573.60v3.5 M604.08 993.20v-3.5 M604.08 573.60v3.5 M612.10 993.20v-3.5 M612.10 573.60v3.5 M618.89 993.20v-3.5 M618.89 573.60v3.5 M624.77 993.20v-3.5 M624.77 573.60v3.5 M629.96 993.20v-3.5 M629.96 573.60v3.5 M127.60 671.11h3.5 M641.20 671.11h-3.5 M127.60 646.54h3.5 M641.20 646.54h-3.5 M127.60 629.11h3.5 M641.20 629.11h-3.5 M127.60 615.59h3.5 M641.20 615.59h-3.5 M127.60 604.55h3.5 M641.20 604.55h-3.5 M127.60 595.21h3.5 M641.20 595.21h-3.5 M127.60 587.12h3.5 M641.20 587.12h-3.5 M127.60 579.98h3.5 M641.20 579.98h-3.5 M127.60 810.61h3.5 M641.20 810.61h-3.5 M127.60 786.04h3.5 M641.20 786.04h-3.5 M127.60 768.61h3.5 M641.20 768.61h-3.5 M127.60 755.09h3.5 M641.20 755.09h-3.5 M127.60 744.05h3.5 M641.20 744.05h-3.5 M127.60 734.71h3.5 M641.20 734.71h-3.5 M127.60 726.62h3.5 M641.20 726.62h-3.5 M127.60 719.48h3.5 M641.20 719.48h-3.5 M127.60 713.10h6 M641.20 713.10h-6 M127.60 950.11h3.5 M641.20 950.11h-3.5 M127.60 925.54h3.5 M641.20 925.54h-3.5 M127.60 908.11h3.5 M641.20 908.11h-3.5 M127.60 894.59h3.5 M641.20 894.59h-3.5 M127.60 883.55h3.5 M641.20 883.55h-3.5 M127.60 874.21h3.5 M641.20 874.21h-3.5 M127.60 866.12h3.5 M641.20 866.12h-3.5 M127.60 858.98h3.5 M641.20 858.98h-3.5 M127.60 852.60h6 M641.20 852.60h-6 M127.60 992.10h6 M641.20 992.10h-6" stroke="#000" stroke-width="2.0" fill="none"/>
<rect x="127.60" y="573.60" width="513.60" height="419.60" fill="none" stroke="#000" stroke-width="2.5"/>
<path d="M762.06 993.80v-3.5 M762.06 574.70v3.5 M779.88 993.80v-3.5 M779.88 574.70v3.5 M792.53 993.80v-3.5 M792.53 574.70v3.5 M802.34 993.80v-3.5 M802.34 574.70v3.5 M810.35 993.80v-3.5 M810.35 574.70v3.5 M817.12 993.80v-3.5 M817.12 574.70v3.5 M822.99 993.80v-3.5 M822.99 574.70v3.5 M828.17 993.80v-3.5 M828.17 574.70v3.5 M832.80 993.80v-6 M832.80 574.70v6 M863.26 993.80v-3.5 M863.26 574.70v3.5 M881.08 993.80v-3.5 M881.08 574.70v3.5 M893.73 993.80v-3.5 M893.73 574.70v3.5 M903.54 993.80v-3.5 M903.54 574.70v3.5 M911.55 993.80v-3.5 M911.55 574.70v3.5 M918.32 993.80v-3.5 M918.32 574.70v3.5 M924.19 993.80v-3.5 M924.19 574.70v3.5 M929.37 993.80v-3.5 M929.37 574.70v3.5 M934.00 993.80v-6 M934.00 574.70v6 M964.46 993.80v-3.5 M964.46 574.70v3.5 M982.28 993.80v-3.5 M982.28 574.70v3.5 M994.93 993.80v-3.5 M994.93 574.70v3.5 M1004.74 993.80v-3.5 M1004.74 574.70v3.5 M1012.75 993.80v-3.5 M1012.75 574.70v3.5 M1019.52 993.80v-3.5 M1019.52 574.70v3.5 M1025.39 993.80v-3.5 M1025.39 574.70v3.5 M1030.57 993.80v-3.5 M1030.57 574.70v3.5 M1035.20 993.80v-6 M1035.20 574.70v6 M1065.66 993.80v-3.5 M1065.66 574.70v3.5 M1083.48 993.80v-3.5 M1083.48 574.70v3.5 M1096.13 993.80v-3.5 M1096.13 574.70v3.5 M1105.94 993.80v-3.5 M1105.94 574.70v3.5 M1113.95 993.80v-3.5 M1113.95 574.70v3.5 M1120.72 993.80v-3.5 M1120.72 574.70v3.5 M1126.59 993.80v-3.5 M1126.59 574.70v3.5 M1131.77 993.80v-3.5 M1131.77 574.70v3.5 M1136.40 993.80v-6 M1136.40 574.70v6 M1166.86 993.80v-3.5 M1166.86 574.70v3.5 M1184.68 993.80v-3.5 M1184.68 574.70v3.5 M1197.33 993.80v-3.5 M1197.33 574.70v3.5 M1207.14 993.80v-3.5 M1207.14 574.70v3.5 M1215.15 993.80v-3.5 M1215.15 574.70v3.5 M1221.92 993.80v-3.5 M1221.92 574.70v3.5 M1227.79 993.80v-3.5 M1227.79 574.70v3.5 M1232.97 993.80v-3.5 M1232.97 574.70v3.5 M731.60 672.21h3.5 M1237.60 672.21h-3.5 M731.60 647.64h3.5 M1237.60 647.64h-3.5 M731.60 630.21h3.5 M1237.60 630.21h-3.5 M731.60 616.69h3.5 M1237.60 616.69h-3.5 M731.60 605.65h3.5 M1237.60 605.65h-3.5 M731.60 596.31h3.5 M1237.60 596.31h-3.5 M731.60 588.22h3.5 M1237.60 588.22h-3.5 M731.60 581.08h3.5 M1237.60 581.08h-3.5 M731.60 811.71h3.5 M1237.60 811.71h-3.5 M731.60 787.14h3.5 M1237.60 787.14h-3.5 M731.60 769.71h3.5 M1237.60 769.71h-3.5 M731.60 756.19h3.5 M1237.60 756.19h-3.5 M731.60 745.15h3.5 M1237.60 745.15h-3.5 M731.60 735.81h3.5 M1237.60 735.81h-3.5 M731.60 727.72h3.5 M1237.60 727.72h-3.5 M731.60 720.58h3.5 M1237.60 720.58h-3.5 M731.60 714.20h6 M1237.60 714.20h-6 M731.60 951.21h3.5 M1237.60 951.21h-3.5 M731.60 926.64h3.5 M1237.60 926.64h-3.5 M731.60 909.21h3.5 M1237.60 909.21h-3.5 M731.60 895.69h3.5 M1237.60 895.69h-3.5 M731.60 884.65h3.5 M1237.60 884.65h-3.5 M731.60 875.31h3.5 M1237.60 875.31h-3.5 M731.60 867.22h3.5 M1237.60 867.22h-3.5 M731.60 860.08h3.5 M1237.60 860.08h-3.5 M731.60 853.70h6 M1237.60 853.70h-6" stroke="#000" stroke-width="2.0" fill="none"/>
<rect x="731.60" y="574.70" width="506.00" height="419.10" fill="none" stroke="#000" stroke-width="2.5"/>
<path d="M118.32 502.47 L115.06 502.47 L115.06 483.47 L114.35 484.16 L113.18 484.98 L111.71 485.79 L110.27 486.47 L109.10 486.89 L109.10 484.01 L110.85 483.21 L112.57 482.13 L114.01 480.94 L115.21 479.69 L116.10 478.20 L118.32 478.20 Z" fill="#000"/>
<text transform="translate(124.45 502.47) scale(1.013 1)" font-size="33.90">0</text>
<text x="143.72" y="483.48" font-size="32.77" style="" fill="#000" >0</text>
<path d="M223.25 503.07 L218.99 503.07 L218.99 478.53 L218.07 479.43 L216.54 480.48 L214.61 481.53 L212.73 482.40 L211.20 482.95 L211.20 479.23 L213.49 478.20 L215.73 476.80 L217.62 475.27 L219.19 473.65 L220.35 471.72 L223.25 471.72 Z" fill="#000"/>
<text transform="translate(231.27 503.07) scale(1.025 1)" font-size="43.79">0</text>
<path d="M269.80 483.80 L266.73 483.80 L266.73 465.64 L266.06 466.30 L264.96 467.08 L263.56 467.86 L262.20 468.51 L261.10 468.91 L261.10 466.16 L262.75 465.40 L264.37 464.36 L265.73 463.22 L266.87 462.03 L267.71 460.60 L269.80 460.60 Z" fill="#000"/>
<path d="M328.95 503.07 L324.69 503.07 L324.69 478.53 L323.77 479.43 L322.24 480.48 L320.31 481.53 L318.43 482.40 L316.90 482.95 L316.90 479.23 L319.19 478.20 L321.43 476.80 L323.32 475.27 L324.89 473.65 L326.05 471.72 L328.95 471.72 Z" fill="#000"/>
<text transform="translate(336.97 503.07) scale(1.025 1)" font-size="43.79">0</text>
<text x="362.33" y="483.80" font-size="33.23" style="" fill="#000" >2</text>
<path d="M421.85 503.07 L417.59 503.07 L417.59 478.53 L416.67 479.43 L415.14 480.48 L413.21 481.53 L411.33 482.40 L409.80 482.95 L409.80 479.23 L412.09 478.20 L414.33 476.80 L416.22 475.27 L417.79 473.65 L418.95 471.72 L421.85 471.72 Z" fill="#000"/>
<text transform="translate(429.87 503.07) scale(1.025 1)" font-size="43.79">0</text>
<text x="454.91" y="484.17" font-size="33.76" style="" fill="#000" >3</text>
<path d="M519.38 502.28 L515.22 502.28 L515.22 478.29 L514.31 479.17 L512.82 480.20 L510.93 481.22 L509.09 482.08 L507.60 482.62 L507.60 478.98 L509.84 477.97 L512.03 476.60 L513.87 475.10 L515.41 473.52 L516.54 471.64 L519.38 471.64 Z" fill="#000"/>
<text transform="translate(527.22 502.28) scale(1.025 1)" font-size="42.80">0</text>
<text x="554.65" y="479.50" font-size="32.70" style="" fill="#000" >4</text>
<path d="M598.88 502.28 L594.72 502.28 L594.72 478.29 L593.81 479.17 L592.32 480.20 L590.43 481.22 L588.59 482.08 L587.10 482.62 L587.10 478.98 L589.34 477.97 L591.53 476.60 L593.37 475.10 L594.91 473.52 L596.04 471.64 L598.88 471.64 Z" fill="#000"/>
<text transform="translate(606.72 502.28) scale(1.025 1)" font-size="42.80">0</text>
<text x="629.37" y="479.88" font-size="33.25" style="" fill="#000" >5</text>
<path d="M73.80 58.78 L69.59 58.78 L69.59 34.55 L68.68 35.44 L67.17 36.47 L65.27 37.51 L63.41 38.38 L61.90 38.92 L61.90 35.24 L64.16 34.23 L66.37 32.84 L68.24 31.33 L69.79 29.73 L70.93 27.83 L73.80 27.83 Z" fill="#000"/>
<text transform="translate(81.71 58.78) scale(1.025 1)" font-size="43.22">0</text>
<text x="104.06" y="34.27" font-size="34.18" style="" fill="#000" >0</text>
<path d="M68.80 186.08 L64.59 186.08 L64.59 161.85 L63.68 162.74 L62.17 163.77 L60.27 164.81 L58.41 165.68 L56.90 166.22 L56.90 162.54 L59.16 161.53 L61.37 160.14 L63.24 158.63 L64.79 157.03 L65.93 155.13 L68.80 155.13 Z" fill="#000"/>
<text transform="translate(76.71 186.08) scale(1.025 1)" font-size="43.22">0</text>
<path d="M113.90 158.10 L110.72 158.10 L110.72 139.31 L110.03 140.00 L108.89 140.80 L107.45 141.61 L106.04 142.28 L104.90 142.70 L104.90 139.85 L106.61 139.06 L108.29 137.99 L109.69 136.82 L110.87 135.57 L111.73 134.10 L113.90 134.10 Z" fill="#000"/>
<rect x="90.70" y="148.26" width="9.10" height="2.67" fill="#000"/>
<path d="M68.80 329.18 L64.59 329.18 L64.59 304.95 L63.68 305.84 L62.17 306.87 L60.27 307.91 L58.41 308.78 L56.90 309.32 L56.90 305.64 L59.16 304.63 L61.37 303.24 L63.24 301.73 L64.79 300.13 L65.93 298.23 L68.80 298.23 Z" fill="#000"/>
<text transform="translate(76.71 329.18) scale(1.025 1)" font-size="43.22">0</text>
<text x="102.17" y="297.50" font-size="34.37" style="" fill="#000" >2</text>
<rect x="91.60" y="287.66" width="9.20" height="2.67" fill="#000"/>
<path d="M68.46 454.48 L64.27 454.48 L64.27 430.33 L63.36 431.22 L61.85 432.25 L59.96 433.28 L58.10 434.14 L56.60 434.68 L56.60 431.02 L58.85 430.01 L61.06 428.63 L62.91 427.12 L64.46 425.53 L65.60 423.63 L68.46 423.63 Z" fill="#000"/>
<text transform="translate(76.35 454.48) scale(1.025 1)" font-size="43.08">0</text>
<text x="100.39" y="424.06" font-size="34.32" style="" fill="#000" >3</text>
<rect x="88.80" y="414.55" width="9.40" height="2.71" fill="#000"/>
<path d="M736.68 498.88 L732.52 498.88 L732.52 474.89 L731.61 475.77 L730.12 476.80 L728.23 477.82 L726.39 478.68 L724.90 479.22 L724.90 475.58 L727.14 474.57 L729.33 473.20 L731.17 471.70 L732.71 470.12 L733.84 468.24 L736.68 468.24 Z" fill="#000"/>
<text transform="translate(744.52 498.88) scale(1.025 1)" font-size="42.80">0</text>
<text x="766.51" y="479.28" font-size="32.91" style="" fill="#000" >0</text>
<path d="M837.98 498.88 L833.82 498.88 L833.82 474.89 L832.91 475.77 L831.42 476.80 L829.53 477.82 L827.69 478.68 L826.20 479.22 L826.20 475.58 L828.44 474.57 L830.63 473.20 L832.47 471.70 L834.01 470.12 L835.14 468.24 L837.98 468.24 Z" fill="#000"/>
<text transform="translate(845.82 498.88) scale(1.025 1)" font-size="42.80">0</text>
<path d="M877.14 479.60 L874.05 479.60 L874.05 461.36 L873.38 462.03 L872.27 462.81 L870.87 463.59 L869.51 464.24 L868.40 464.65 L868.40 461.88 L870.06 461.12 L871.69 460.07 L873.05 458.94 L874.19 457.73 L875.04 456.30 L877.14 456.30 Z" fill="#000"/>
<path d="M939.48 498.78 L935.32 498.78 L935.32 474.79 L934.41 475.67 L932.92 476.70 L931.03 477.72 L929.19 478.58 L927.70 479.12 L927.70 475.48 L929.94 474.47 L932.13 473.10 L933.97 471.60 L935.51 470.02 L936.64 468.14 L939.48 468.14 Z" fill="#000"/>
<text transform="translate(947.32 498.78) scale(1.025 1)" font-size="42.80">0</text>
<text x="969.68" y="479.50" font-size="32.22" style="" fill="#000" >2</text>
<path d="M1037.28 498.78 L1033.12 498.78 L1033.12 474.79 L1032.21 475.67 L1030.72 476.70 L1028.83 477.72 L1026.99 478.58 L1025.50 479.12 L1025.50 475.48 L1027.74 474.47 L1029.93 473.10 L1031.77 471.60 L1033.31 470.02 L1034.44 468.14 L1037.28 468.14 Z" fill="#000"/>
<text transform="translate(1045.12 498.78) scale(1.025 1)" font-size="42.80">0</text>
<text x="1066.45" y="479.88" font-size="32.77" style="" fill="#000" >3</text>
<path d="M1134.68 498.68 L1130.52 498.68 L1130.52 474.69 L1129.61 475.57 L1128.12 476.60 L1126.23 477.62 L1124.39 478.48 L1122.90 479.02 L1122.90 475.38 L1125.14 474.37 L1127.33 473.00 L1129.17 471.50 L1130.71 469.92 L1131.84 468.04 L1134.68 468.04 Z" fill="#000"/>
<text transform="translate(1142.52 498.68) scale(1.025 1)" font-size="42.80">0</text>
<text x="1165.75" y="475.90" font-size="32.70" style="" fill="#000" >4</text>
<path d="M1213.48 498.68 L1209.32 498.68 L1209.32 474.69 L1208.41 475.57 L1206.92 476.60 L1205.03 477.62 L1203.19 478.48 L1201.70 479.02 L1201.70 475.38 L1203.94 474.37 L1206.13 473.00 L1207.97 471.50 L1209.51 469.92 L1210.64 468.04 L1213.48 468.04 Z" fill="#000"/>
<text transform="translate(1221.32 498.68) scale(1.025 1)" font-size="42.80">0</text>
<text x="1240.43" y="476.27" font-size="34.25" style="" fill="#000" >5</text>
<path d="M680.42 59.58 L676.29 59.58 L676.29 35.83 L675.40 36.70 L673.92 37.72 L672.05 38.74 L670.23 39.58 L668.75 40.11 L668.75 36.51 L670.97 35.52 L673.14 34.16 L674.96 32.68 L676.48 31.11 L677.61 29.25 L680.42 29.25 Z" fill="#000"/>
<text transform="translate(688.17 59.58) scale(1.025 1)" font-size="42.37">0</text>
<text x="706.73" y="35.28" font-size="32.63" style="" fill="#000" >0</text>
<path d="M678.86 187.28 L674.67 187.28 L674.67 163.13 L673.76 164.02 L672.25 165.05 L670.36 166.08 L668.50 166.94 L667.00 167.48 L667.00 163.82 L669.25 162.81 L671.46 161.43 L673.31 159.92 L674.86 158.33 L676.00 156.43 L678.86 156.43 Z" fill="#000"/>
<text transform="translate(686.75 187.28) scale(1.025 1)" font-size="43.08">0</text>
<path d="M712.32 155.30 L709.09 155.30 L709.09 136.28 L708.39 136.97 L707.24 137.79 L705.78 138.60 L704.35 139.28 L703.20 139.71 L703.20 136.82 L704.93 136.02 L706.63 134.94 L708.05 133.75 L709.24 132.49 L710.12 131.00 L712.32 131.00 Z" fill="#000"/>
<rect x="689.00" y="145.05" width="8.90" height="2.71" fill="#000"/>
<path d="M678.90 330.18 L674.69 330.18 L674.69 305.95 L673.78 306.84 L672.27 307.87 L670.37 308.91 L668.51 309.78 L667.00 310.32 L667.00 306.64 L669.26 305.63 L671.47 304.24 L673.34 302.73 L674.89 301.13 L676.03 299.23 L678.90 299.23 Z" fill="#000"/>
<text transform="translate(686.81 330.18) scale(1.025 1)" font-size="43.22">0</text>
<text x="704.42" y="298.40" font-size="33.37" style="" fill="#000" >2</text>
<rect x="694.10" y="288.60" width="8.80" height="2.60" fill="#000"/>
<path d="M678.68 451.98 L674.52 451.98 L674.52 427.99 L673.61 428.87 L672.12 429.90 L670.23 430.92 L668.39 431.78 L666.90 432.32 L666.90 428.68 L669.14 427.67 L671.33 426.30 L673.17 424.80 L674.71 423.22 L675.84 421.34 L678.68 421.34 Z" fill="#000"/>
<text transform="translate(686.52 451.98) scale(1.025 1)" font-size="42.80">0</text>
<text x="702.74" y="421.38" font-size="33.05" style="" fill="#000" >3</text>
<rect x="691.40" y="411.70" width="9.40" height="2.61" fill="#000"/>
<path d="M130.46 1046.38 L126.27 1046.38 L126.27 1022.23 L125.36 1023.12 L123.85 1024.15 L121.96 1025.18 L120.10 1026.04 L118.60 1026.58 L118.60 1022.92 L120.85 1021.91 L123.06 1020.53 L124.91 1019.02 L126.46 1017.43 L127.60 1015.53 L130.46 1015.53 Z" fill="#000"/>
<text transform="translate(138.35 1046.38) scale(1.025 1)" font-size="43.08">0</text>
<text x="160.51" y="1027.28" font-size="32.91" style="" fill="#000" >0</text>
<path d="M230.86 1046.38 L226.67 1046.38 L226.67 1022.23 L225.76 1023.12 L224.25 1024.15 L222.36 1025.18 L220.50 1026.04 L219.00 1026.58 L219.00 1022.92 L221.25 1021.91 L223.46 1020.53 L225.31 1019.02 L226.86 1017.43 L228.00 1015.53 L230.86 1015.53 Z" fill="#000"/>
<text transform="translate(238.75 1046.38) scale(1.025 1)" font-size="43.08">0</text>
<path d="M273.54 1027.60 L270.45 1027.60 L270.45 1009.36 L269.78 1010.03 L268.67 1010.81 L267.27 1011.59 L265.91 1012.24 L264.80 1012.65 L264.80 1009.88 L266.46 1009.12 L268.09 1008.07 L269.45 1006.94 L270.59 1005.73 L271.44 1004.30 L273.54 1004.30 Z" fill="#000"/>
<path d="M332.52 1046.48 L328.30 1046.48 L328.30 1022.21 L327.39 1023.10 L325.88 1024.14 L323.97 1025.18 L322.11 1026.04 L320.60 1026.58 L320.60 1022.90 L322.86 1021.89 L325.08 1020.50 L326.95 1018.99 L328.50 1017.38 L329.65 1015.48 L332.52 1015.48 Z" fill="#000"/>
<text transform="translate(340.44 1046.48) scale(1.025 1)" font-size="43.29">0</text>
<text x="362.69" y="1027.50" font-size="34.01" style="" fill="#000" >2</text>
<path d="M430.25 1046.67 L425.99 1046.67 L425.99 1022.13 L425.07 1023.03 L423.54 1024.08 L421.61 1025.13 L419.73 1026.00 L418.20 1026.55 L418.20 1022.83 L420.49 1021.80 L422.73 1020.40 L424.62 1018.87 L426.19 1017.25 L427.35 1015.32 L430.25 1015.32 Z" fill="#000"/>
<text transform="translate(438.27 1046.67) scale(1.025 1)" font-size="43.79">0</text>
<text x="459.81" y="1027.77" font-size="33.90" style="" fill="#000" >3</text>
<path d="M531.48 1045.88 L527.32 1045.88 L527.32 1021.89 L526.41 1022.77 L524.92 1023.80 L523.03 1024.82 L521.19 1025.68 L519.70 1026.22 L519.70 1022.58 L521.94 1021.57 L524.13 1020.20 L525.97 1018.70 L527.51 1017.12 L528.64 1015.24 L531.48 1015.24 Z" fill="#000"/>
<text transform="translate(539.32 1045.88) scale(1.025 1)" font-size="42.80">0</text>
<text x="559.03" y="1023.80" font-size="33.72" style="" fill="#000" >4</text>
<path d="M610.98 1045.88 L606.82 1045.88 L606.82 1021.89 L605.91 1022.77 L604.42 1023.80 L602.53 1024.82 L600.69 1025.68 L599.20 1026.22 L599.20 1022.58 L601.44 1021.57 L603.63 1020.20 L605.47 1018.70 L607.01 1017.12 L608.14 1015.24 L610.98 1015.24 Z" fill="#000"/>
<text transform="translate(618.82 1045.88) scale(1.025 1)" font-size="42.80">0</text>
<text x="640.73" y="1027.67" font-size="34.25" style="" fill="#000" >5</text>
<path d="M73.20 602.28 L68.99 602.28 L68.99 578.05 L68.08 578.94 L66.57 579.97 L64.67 581.01 L62.81 581.88 L61.30 582.42 L61.30 578.74 L63.56 577.73 L65.77 576.34 L67.64 574.83 L69.19 573.23 L70.33 571.33 L73.20 571.33 Z" fill="#000"/>
<text transform="translate(81.11 602.28) scale(1.025 1)" font-size="43.22">0</text>
<text x="103.46" y="578.06" font-size="34.32" style="" fill="#000" >0</text>
<path d="M71.48 729.88 L67.32 729.88 L67.32 705.89 L66.41 706.77 L64.92 707.80 L63.03 708.82 L61.19 709.68 L59.70 710.22 L59.70 706.58 L61.94 705.57 L64.13 704.20 L65.97 702.70 L67.51 701.12 L68.64 699.24 L71.48 699.24 Z" fill="#000"/>
<text transform="translate(79.32 729.88) scale(1.025 1)" font-size="42.80">0</text>
<path d="M117.37 697.90 L114.19 697.90 L114.19 679.19 L113.51 679.87 L112.37 680.68 L110.94 681.48 L109.53 682.14 L108.40 682.56 L108.40 679.72 L110.10 678.94 L111.77 677.87 L113.17 676.70 L114.34 675.47 L115.21 674.00 L117.37 674.00 Z" fill="#000"/>
<rect x="94.00" y="688.27" width="9.40" height="2.66" fill="#000"/>
<path d="M71.44 872.98 L67.29 872.98 L67.29 849.07 L66.39 849.95 L64.90 850.97 L63.02 852.00 L61.19 852.85 L59.70 853.38 L59.70 849.76 L61.93 848.75 L64.12 847.39 L65.95 845.90 L67.48 844.32 L68.61 842.44 L71.44 842.44 Z" fill="#000"/>
<text transform="translate(79.25 872.98) scale(1.025 1)" font-size="42.66">0</text>
<text x="101.29" y="841.00" font-size="34.09" style="" fill="#000" >2</text>
<rect x="90.70" y="831.07" width="9.00" height="2.65" fill="#000"/>
<path d="M71.60 998.28 L67.39 998.28 L67.39 974.05 L66.48 974.94 L64.97 975.97 L63.07 977.01 L61.21 977.88 L59.70 978.42 L59.70 974.74 L61.96 973.73 L64.17 972.34 L66.04 970.83 L67.59 969.23 L68.73 967.33 L71.60 967.33 Z" fill="#000"/>
<text transform="translate(79.51 998.28) scale(1.025 1)" font-size="43.22">0</text>
<text x="99.71" y="967.77" font-size="33.90" style="" fill="#000" >3</text>
<rect x="88.10" y="957.96" width="9.80" height="2.67" fill="#000"/>
<path d="M746.85 1046.67 L742.59 1046.67 L742.59 1022.13 L741.67 1023.03 L740.14 1024.08 L738.21 1025.13 L736.33 1026.00 L734.80 1026.55 L734.80 1022.83 L737.09 1021.80 L739.33 1020.40 L741.22 1018.87 L742.79 1017.25 L743.95 1015.32 L746.85 1015.32 Z" fill="#000"/>
<text transform="translate(754.87 1046.67) scale(1.025 1)" font-size="43.79">0</text>
<text x="776.41" y="1027.08" font-size="32.91" style="" fill="#000" >0</text>
<path d="M848.15 1046.67 L843.89 1046.67 L843.89 1022.13 L842.97 1023.03 L841.44 1024.08 L839.51 1025.13 L837.63 1026.00 L836.10 1026.55 L836.10 1022.83 L838.39 1021.80 L840.63 1020.40 L842.52 1018.87 L844.09 1017.25 L845.25 1015.32 L848.15 1015.32 Z" fill="#000"/>
<text transform="translate(856.17 1046.67) scale(1.025 1)" font-size="43.79">0</text>
<path d="M887.04 1027.40 L883.95 1027.40 L883.95 1009.16 L883.28 1009.83 L882.17 1010.61 L880.77 1011.39 L879.41 1012.04 L878.30 1012.45 L878.30 1009.68 L879.96 1008.92 L881.59 1007.87 L882.95 1006.74 L884.09 1005.53 L884.94 1004.10 L887.04 1004.10 Z" fill="#000"/>
<path d="M949.42 1046.48 L945.20 1046.48 L945.20 1022.21 L944.29 1023.10 L942.78 1024.14 L940.87 1025.18 L939.01 1026.04 L937.50 1026.58 L937.50 1022.90 L939.76 1021.89 L941.98 1020.50 L943.85 1018.99 L945.40 1017.38 L946.55 1015.48 L949.42 1015.48 Z" fill="#000"/>
<text transform="translate(957.34 1046.48) scale(1.025 1)" font-size="43.29">0</text>
<text x="979.54" y="1027.50" font-size="34.01" style="" fill="#000" >2</text>
<path d="M1046.29 1045.99 L1042.26 1045.99 L1042.26 1022.80 L1041.39 1023.65 L1039.95 1024.64 L1038.12 1025.63 L1036.34 1026.46 L1034.90 1026.98 L1034.90 1023.46 L1037.06 1022.49 L1039.18 1021.16 L1040.97 1019.72 L1042.45 1018.18 L1043.55 1016.36 L1046.29 1016.36 Z" fill="#000"/>
<text transform="translate(1053.87 1045.99) scale(1.025 1)" font-size="41.38">0</text>
<text x="1076.94" y="1027.38" font-size="33.05" style="" fill="#000" >3</text>
<path d="M1144.49 1045.99 L1140.46 1045.99 L1140.46 1022.80 L1139.59 1023.65 L1138.15 1024.64 L1136.32 1025.63 L1134.54 1026.46 L1133.10 1026.98 L1133.10 1023.46 L1135.26 1022.49 L1137.38 1021.16 L1139.17 1019.72 L1140.65 1018.18 L1141.75 1016.36 L1144.49 1016.36 Z" fill="#000"/>
<text transform="translate(1152.07 1045.99) scale(1.025 1)" font-size="41.38">0</text>
<text x="1175.66" y="1023.00" font-size="32.27" style="" fill="#000" >4</text>
<path d="M1222.79 1045.99 L1218.76 1045.99 L1218.76 1022.80 L1217.89 1023.65 L1216.45 1024.64 L1214.62 1025.63 L1212.84 1026.46 L1211.40 1026.98 L1211.40 1023.46 L1213.56 1022.49 L1215.68 1021.16 L1217.47 1019.72 L1218.95 1018.18 L1220.05 1016.36 L1222.79 1016.36 Z" fill="#000"/>
<text transform="translate(1230.37 1045.99) scale(1.025 1)" font-size="41.38">0</text>
<text x="1251.03" y="1022.69" font-size="31.82" style="" fill="#000" >5</text>
<path d="M683.74 594.98 L679.59 594.98 L679.59 571.07 L678.69 571.95 L677.20 572.97 L675.32 574.00 L673.49 574.85 L672.00 575.38 L672.00 571.76 L674.23 570.75 L676.42 569.39 L678.25 567.90 L679.78 566.32 L680.91 564.44 L683.74 564.44 Z" fill="#000"/>
<text transform="translate(691.55 594.98) scale(1.025 1)" font-size="42.66">0</text>
<text x="714.16" y="579.06" font-size="34.32" style="" fill="#000" >0</text>
<path d="M682.56 722.28 L678.37 722.28 L678.37 698.13 L677.46 699.02 L675.95 700.05 L674.06 701.08 L672.20 701.94 L670.70 702.48 L670.70 698.82 L672.95 697.81 L675.16 696.43 L677.01 694.92 L678.56 693.33 L679.70 691.43 L682.56 691.43 Z" fill="#000"/>
<text transform="translate(690.45 722.28) scale(1.025 1)" font-size="43.08">0</text>
<path d="M720.33 694.70 L717.06 694.70 L717.06 675.44 L716.36 676.15 L715.19 676.97 L713.71 677.80 L712.27 678.48 L711.10 678.91 L711.10 675.99 L712.85 675.18 L714.57 674.09 L716.01 672.88 L717.22 671.61 L718.11 670.10 L720.33 670.10 Z" fill="#000"/>
<rect x="696.60" y="684.13" width="9.10" height="2.74" fill="#000"/>
<path d="M682.56 865.38 L678.37 865.38 L678.37 841.23 L677.46 842.12 L675.95 843.15 L674.06 844.18 L672.20 845.04 L670.70 845.58 L670.70 841.92 L672.95 840.91 L675.16 839.53 L677.01 838.02 L678.56 836.43 L679.70 834.53 L682.56 834.53 Z" fill="#000"/>
<text transform="translate(690.45 865.38) scale(1.025 1)" font-size="43.08">0</text>
<text x="707.82" y="833.70" font-size="33.37" style="" fill="#000" >2</text>
<rect x="697.20" y="823.60" width="9.50" height="2.60" fill="#000"/>
<path d="M682.72 994.47 L678.47 994.47 L678.47 970.01 L677.54 970.90 L676.02 971.95 L674.10 973.00 L672.22 973.87 L670.70 974.42 L670.70 970.71 L672.98 969.68 L675.22 968.29 L677.10 966.76 L678.66 965.14 L679.82 963.22 L682.72 963.22 Z" fill="#000"/>
<text transform="translate(690.71 994.47) scale(1.025 1)" font-size="43.64">0</text>
<text x="710.43" y="963.37" font-size="33.33" style="" fill="#000" >3</text>
<rect x="699.10" y="953.89" width="9.10" height="2.63" fill="#000"/>
<text x="148.24" y="240.60" font-size="33.5" style="font-style:italic" fill="#231f20">no pain,</text>
<text x="148.24" y="280.30" font-size="33.5" style="font-style:italic" fill="#231f20">middle age</text>
<text x="746.02" y="246.00" font-size="33.5" style="font-style:italic" fill="#231f20">severe pain,</text>
<text x="744.54" y="286.60" font-size="33.5" style="font-style:italic" fill="#231f20">middle age</text>
<text x="151.74" y="798.60" font-size="33.5" style="font-style:italic" fill="#231f20">moderate pain,</text>
<text x="151.20" y="838.30" font-size="33.5" style="font-style:italic" fill="#231f20">old age</text>
<text x="764.22" y="809.60" font-size="33.5" style="font-style:italic" fill="#231f20">severe pain,</text>
<text x="763.20" y="850.30" font-size="33.5" style="font-style:italic" fill="#231f20">old age</text>
<line x1="146.8" y1="351.6" x2="212.3" y2="351.6" stroke="#ed1e25" stroke-width="6"/>
<rect x="169.6" y="341.3" width="19.400000000000006" height="20.19999999999999" fill="#ed1e25"/>
<rect x="176.3" y="346.9" width="6" height="2" fill="#f6b0b0"/>
<rect x="176.3" y="353.9" width="6" height="2" fill="#f6b0b0"/>
<text x="222.27" y="365.09" font-size="41.62" style="font-style:italic;" fill="#000" >a</text>
<line x1="147.8" y1="395.2" x2="214.2" y2="395.2" stroke="#000" stroke-width="7"/>
<circle cx="181" cy="395.2" r="8.7" fill="#000"/>
<circle cx="181" cy="395.2" r="2.3" fill="none" stroke="#fff" stroke-width="1"/>
<text x="223.30" y="410.00" font-size="42.19" style="font-style:italic;" fill="#000" >r</text>
<line x1="746.1" y1="340.5" x2="812.3" y2="340.5" stroke="#ed1e25" stroke-width="6"/>
<rect x="769.7" y="331" width="18.899999999999977" height="20" fill="#ed1e25"/>
<rect x="776.1500000000001" y="336.5" width="6" height="2" fill="#f6b0b0"/>
<rect x="776.1500000000001" y="343.5" width="6" height="2" fill="#f6b0b0"/>
<text x="825.61" y="348.61" font-size="39.61" style="font-style:italic;" fill="#000" >a</text>
<line x1="747" y1="385" x2="813.2" y2="385" stroke="#000" stroke-width="7"/>
<circle cx="780.1" cy="385" r="8.7" fill="#000"/>
<circle cx="780.1" cy="385" r="2.3" fill="none" stroke="#fff" stroke-width="1"/>
<text x="826.73" y="391.60" font-size="40.33" style="font-style:italic;" fill="#000" >r</text>
<line x1="149.2" y1="888.5" x2="215.3" y2="888.5" stroke="#ed1e25" stroke-width="6"/>
<rect x="172.6" y="877.9" width="18.900000000000006" height="21.399999999999977" fill="#ed1e25"/>
<rect x="179.05" y="884.0999999999999" width="6" height="2" fill="#f6b0b0"/>
<rect x="179.05" y="891.0999999999999" width="6" height="2" fill="#f6b0b0"/>
<text x="230.64" y="898.88" font-size="42.71" style="font-style:italic;" fill="#000" >a</text>
<line x1="150.2" y1="932.8" x2="217.3" y2="932.8" stroke="#000" stroke-width="7"/>
<circle cx="183.8" cy="932.8" r="8.7" fill="#000"/>
<circle cx="183.8" cy="932.8" r="2.3" fill="none" stroke="#fff" stroke-width="1"/>
<text x="227.81" y="942.00" font-size="41.63" style="font-style:italic;" fill="#000" >r</text>
<line x1="760.2" y1="889.5" x2="827.3" y2="889.5" stroke="#ed1e25" stroke-width="6"/>
<rect x="784.2" y="879.8" width="19.09999999999991" height="19.90000000000009" fill="#ed1e25"/>
<rect x="790.75" y="885.25" width="6" height="2" fill="#f6b0b0"/>
<rect x="790.75" y="892.25" width="6" height="2" fill="#f6b0b0"/>
<text x="840.64" y="900.68" font-size="42.71" style="font-style:italic;" fill="#000" >a</text>
<line x1="762.3" y1="933" x2="828.4" y2="933" stroke="#000" stroke-width="7"/>
<circle cx="794.8" cy="933" r="8.7" fill="#000"/>
<circle cx="794.8" cy="933" r="2.3" fill="none" stroke="#fff" stroke-width="1"/>
<text x="837.78" y="941.80" font-size="43.49" style="font-style:italic;" fill="#000" >r</text>
<text transform="translate(43.2 939.55) rotate(-90)" font-size="46" xml:space="preserve">complementary  cumulative  distributions</text>
<text transform="translate(487.27 1089.3) scale(1.047 1)" font-size="44" xml:space="preserve">durations <tspan font-style="italic">a</tspan><tspan font-style="italic" font-size="28" dy="8">i</tspan><tspan dy="-8">, </tspan><tspan font-style="italic">r</tspan><tspan font-style="italic" font-size="28" dy="8">i</tspan><tspan dy="-8">,  (s)</tspan></text>
</svg></body></html>
